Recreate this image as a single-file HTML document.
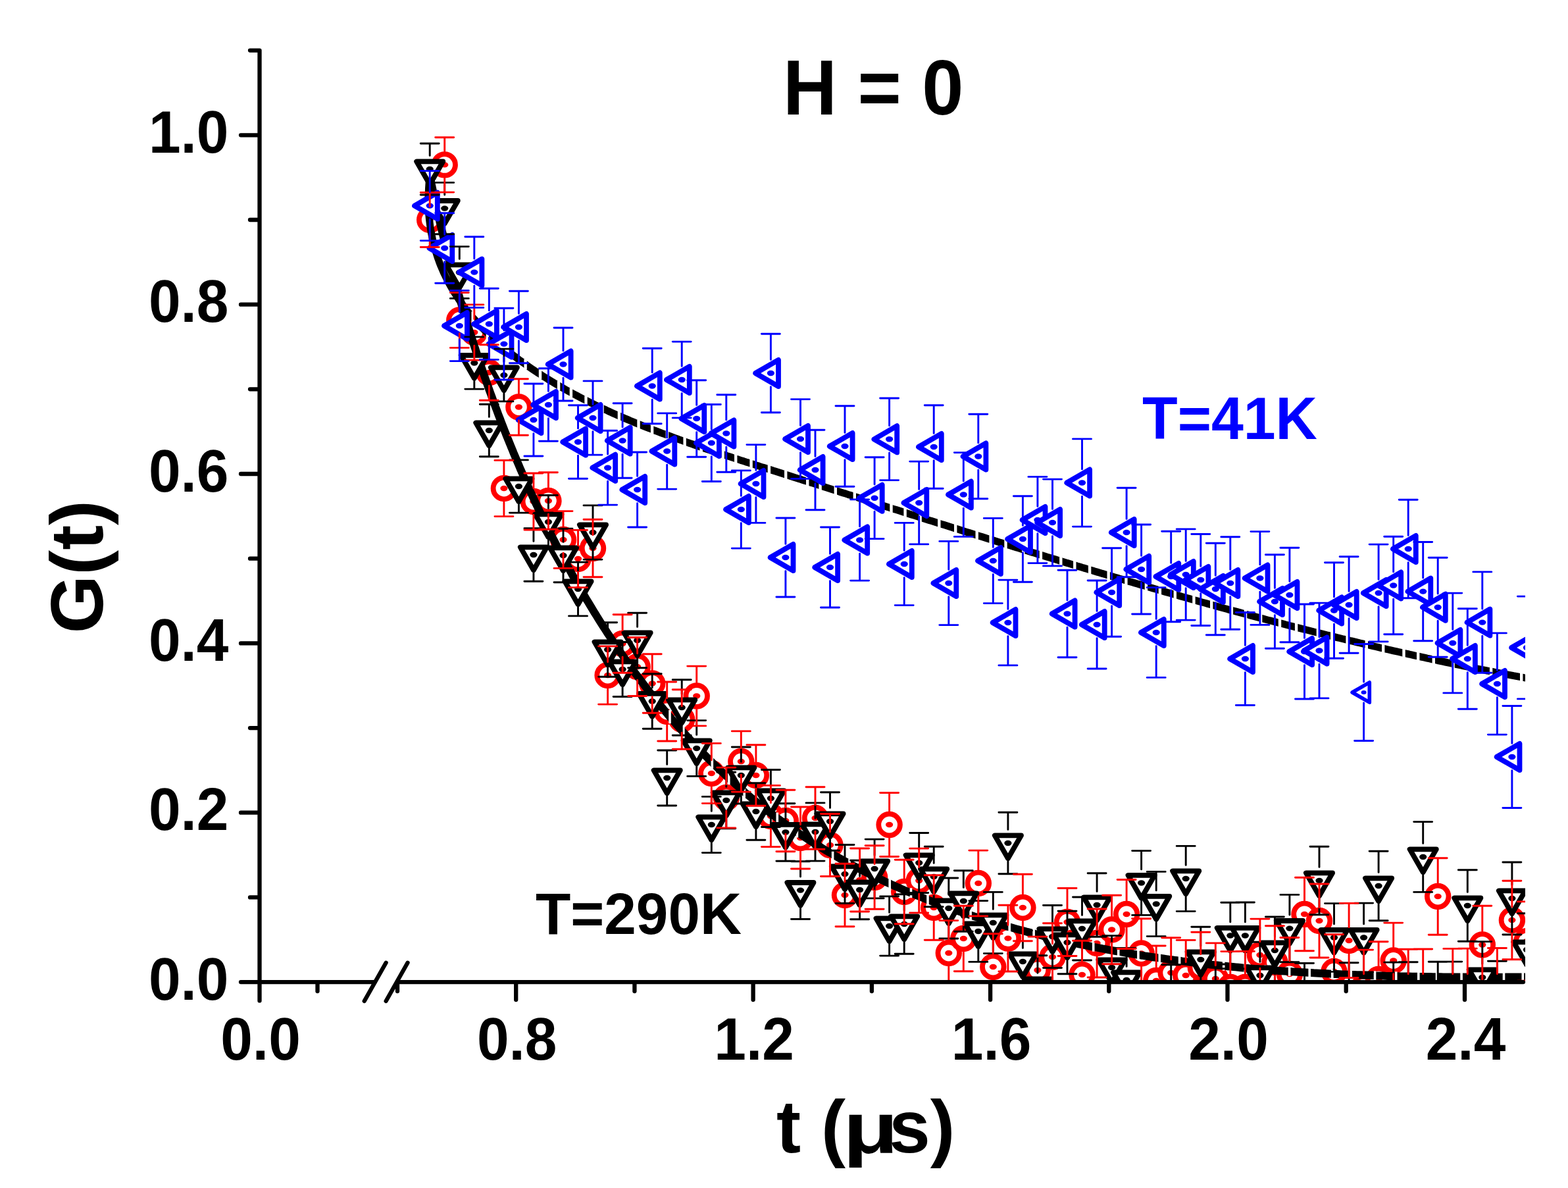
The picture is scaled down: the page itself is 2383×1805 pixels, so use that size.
<!DOCTYPE html><html><head><meta charset="utf-8"><title>G(t) H=0</title><style>html,body{margin:0;padding:0;background:#fff}svg{display:block}text{font-family:"Liberation Sans",Arial,sans-serif;font-weight:bold}</style></head><body><svg width="2383" height="1805" viewBox="0 0 2383 1805"><rect width="2383" height="1805" fill="#fff"/><defs><clipPath id="pc"><rect x="394.5" y="46.6" width="1923.5" height="1445.5"/></clipPath></defs><g clip-path="url(#pc)"><circle cx="653.2" cy="334" r="16.3" fill="#fff" stroke="#ff0000" stroke-width="7.8"/><ellipse cx="653.2" cy="334" rx="5.6" ry="4.2" fill="#ff0000"/><circle cx="675.7" cy="250.4" r="16.3" fill="#fff" stroke="#ff0000" stroke-width="7.8"/><ellipse cx="675.7" cy="250.4" rx="5.6" ry="4.2" fill="#ff0000"/><circle cx="698.3" cy="486.5" r="16.3" fill="#fff" stroke="#ff0000" stroke-width="7.8"/><ellipse cx="698.3" cy="486.5" rx="5.6" ry="4.2" fill="#ff0000"/><circle cx="720.8" cy="505" r="16.3" fill="#fff" stroke="#ff0000" stroke-width="7.8"/><ellipse cx="720.8" cy="505" rx="5.6" ry="4.2" fill="#ff0000"/><circle cx="743.3" cy="566" r="16.3" fill="#fff" stroke="#ff0000" stroke-width="7.8"/><ellipse cx="743.3" cy="566" rx="5.6" ry="4.2" fill="#ff0000"/><circle cx="765.9" cy="742" r="16.3" fill="#fff" stroke="#ff0000" stroke-width="7.8"/><ellipse cx="765.9" cy="742" rx="5.6" ry="4.2" fill="#ff0000"/><circle cx="788.4" cy="618.5" r="16.3" fill="#fff" stroke="#ff0000" stroke-width="7.8"/><ellipse cx="788.4" cy="618.5" rx="5.6" ry="4.2" fill="#ff0000"/><circle cx="810.9" cy="762" r="16.3" fill="#fff" stroke="#ff0000" stroke-width="7.8"/><ellipse cx="810.9" cy="762" rx="5.6" ry="4.2" fill="#ff0000"/><circle cx="833.4" cy="761" r="16.3" fill="#fff" stroke="#ff0000" stroke-width="7.8"/><ellipse cx="833.4" cy="761" rx="5.6" ry="4.2" fill="#ff0000"/><circle cx="856" cy="820" r="16.3" fill="#fff" stroke="#ff0000" stroke-width="7.8"/><ellipse cx="856" cy="820" rx="5.6" ry="4.2" fill="#ff0000"/><circle cx="878.5" cy="849" r="16.3" fill="#fff" stroke="#ff0000" stroke-width="7.8"/><ellipse cx="878.5" cy="849" rx="5.6" ry="4.2" fill="#ff0000"/><circle cx="901" cy="833" r="16.3" fill="#fff" stroke="#ff0000" stroke-width="7.8"/><ellipse cx="901" cy="833" rx="5.6" ry="4.2" fill="#ff0000"/><circle cx="923.6" cy="1026" r="16.3" fill="#fff" stroke="#ff0000" stroke-width="7.8"/><ellipse cx="923.6" cy="1026" rx="5.6" ry="4.2" fill="#ff0000"/><circle cx="946.1" cy="978" r="16.3" fill="#fff" stroke="#ff0000" stroke-width="7.8"/><ellipse cx="946.1" cy="978" rx="5.6" ry="4.2" fill="#ff0000"/><circle cx="968.6" cy="1013" r="16.3" fill="#fff" stroke="#ff0000" stroke-width="7.8"/><ellipse cx="968.6" cy="1013" rx="5.6" ry="4.2" fill="#ff0000"/><circle cx="991.2" cy="1038.5" r="16.3" fill="#fff" stroke="#ff0000" stroke-width="7.8"/><ellipse cx="991.2" cy="1038.5" rx="5.6" ry="4.2" fill="#ff0000"/><circle cx="1013.7" cy="1081" r="16.3" fill="#fff" stroke="#ff0000" stroke-width="7.8"/><ellipse cx="1013.7" cy="1081" rx="5.6" ry="4.2" fill="#ff0000"/><circle cx="1036.2" cy="1093" r="16.3" fill="#fff" stroke="#ff0000" stroke-width="7.8"/><ellipse cx="1036.2" cy="1093" rx="5.6" ry="4.2" fill="#ff0000"/><circle cx="1058.7" cy="1057.5" r="16.3" fill="#fff" stroke="#ff0000" stroke-width="7.8"/><ellipse cx="1058.7" cy="1057.5" rx="5.6" ry="4.2" fill="#ff0000"/><circle cx="1081.3" cy="1175" r="16.3" fill="#fff" stroke="#ff0000" stroke-width="7.8"/><ellipse cx="1081.3" cy="1175" rx="5.6" ry="4.2" fill="#ff0000"/><circle cx="1103.8" cy="1212" r="16.3" fill="#fff" stroke="#ff0000" stroke-width="7.8"/><ellipse cx="1103.8" cy="1212" rx="5.6" ry="4.2" fill="#ff0000"/><circle cx="1126.3" cy="1157" r="16.3" fill="#fff" stroke="#ff0000" stroke-width="7.8"/><ellipse cx="1126.3" cy="1157" rx="5.6" ry="4.2" fill="#ff0000"/><circle cx="1148.9" cy="1178" r="16.3" fill="#fff" stroke="#ff0000" stroke-width="7.8"/><ellipse cx="1148.9" cy="1178" rx="5.6" ry="4.2" fill="#ff0000"/><circle cx="1171.4" cy="1240" r="16.3" fill="#fff" stroke="#ff0000" stroke-width="7.8"/><ellipse cx="1171.4" cy="1240" rx="5.6" ry="4.2" fill="#ff0000"/><circle cx="1193.9" cy="1247" r="16.3" fill="#fff" stroke="#ff0000" stroke-width="7.8"/><ellipse cx="1193.9" cy="1247" rx="5.6" ry="4.2" fill="#ff0000"/><circle cx="1216.5" cy="1273" r="16.3" fill="#fff" stroke="#ff0000" stroke-width="7.8"/><ellipse cx="1216.5" cy="1273" rx="5.6" ry="4.2" fill="#ff0000"/><circle cx="1239" cy="1243" r="16.3" fill="#fff" stroke="#ff0000" stroke-width="7.8"/><ellipse cx="1239" cy="1243" rx="5.6" ry="4.2" fill="#ff0000"/><circle cx="1261.5" cy="1284" r="16.3" fill="#fff" stroke="#ff0000" stroke-width="7.8"/><ellipse cx="1261.5" cy="1284" rx="5.6" ry="4.2" fill="#ff0000"/><circle cx="1284" cy="1360" r="16.3" fill="#fff" stroke="#ff0000" stroke-width="7.8"/><ellipse cx="1284" cy="1360" rx="5.6" ry="4.2" fill="#ff0000"/><circle cx="1306.6" cy="1337" r="16.3" fill="#fff" stroke="#ff0000" stroke-width="7.8"/><ellipse cx="1306.6" cy="1337" rx="5.6" ry="4.2" fill="#ff0000"/><circle cx="1329.1" cy="1333" r="16.3" fill="#fff" stroke="#ff0000" stroke-width="7.8"/><ellipse cx="1329.1" cy="1333" rx="5.6" ry="4.2" fill="#ff0000"/><circle cx="1351.6" cy="1253" r="16.3" fill="#fff" stroke="#ff0000" stroke-width="7.8"/><ellipse cx="1351.6" cy="1253" rx="5.6" ry="4.2" fill="#ff0000"/><circle cx="1374.2" cy="1355" r="16.3" fill="#fff" stroke="#ff0000" stroke-width="7.8"/><ellipse cx="1374.2" cy="1355" rx="5.6" ry="4.2" fill="#ff0000"/><circle cx="1396.7" cy="1338" r="16.3" fill="#fff" stroke="#ff0000" stroke-width="7.8"/><ellipse cx="1396.7" cy="1338" rx="5.6" ry="4.2" fill="#ff0000"/><circle cx="1419.2" cy="1379" r="16.3" fill="#fff" stroke="#ff0000" stroke-width="7.8"/><ellipse cx="1419.2" cy="1379" rx="5.6" ry="4.2" fill="#ff0000"/><circle cx="1441.8" cy="1448" r="16.3" fill="#fff" stroke="#ff0000" stroke-width="7.8"/><ellipse cx="1441.8" cy="1448" rx="5.6" ry="4.2" fill="#ff0000"/><circle cx="1464.3" cy="1426" r="16.3" fill="#fff" stroke="#ff0000" stroke-width="7.8"/><ellipse cx="1464.3" cy="1426" rx="5.6" ry="4.2" fill="#ff0000"/><circle cx="1486.8" cy="1342" r="16.3" fill="#fff" stroke="#ff0000" stroke-width="7.8"/><ellipse cx="1486.8" cy="1342" rx="5.6" ry="4.2" fill="#ff0000"/><circle cx="1509.3" cy="1469" r="16.3" fill="#fff" stroke="#ff0000" stroke-width="7.8"/><ellipse cx="1509.3" cy="1469" rx="5.6" ry="4.2" fill="#ff0000"/><circle cx="1531.9" cy="1425.6" r="16.3" fill="#fff" stroke="#ff0000" stroke-width="7.8"/><ellipse cx="1531.9" cy="1425.6" rx="5.6" ry="4.2" fill="#ff0000"/><circle cx="1554.4" cy="1379" r="16.3" fill="#fff" stroke="#ff0000" stroke-width="7.8"/><ellipse cx="1554.4" cy="1379" rx="5.6" ry="4.2" fill="#ff0000"/><circle cx="1576.9" cy="1474" r="16.3" fill="#fff" stroke="#ff0000" stroke-width="7.8"/><ellipse cx="1576.9" cy="1474" rx="5.6" ry="4.2" fill="#ff0000"/><circle cx="1599.5" cy="1454" r="16.3" fill="#fff" stroke="#ff0000" stroke-width="7.8"/><ellipse cx="1599.5" cy="1454" rx="5.6" ry="4.2" fill="#ff0000"/><circle cx="1622" cy="1401" r="16.3" fill="#fff" stroke="#ff0000" stroke-width="7.8"/><ellipse cx="1622" cy="1401" rx="5.6" ry="4.2" fill="#ff0000"/><circle cx="1644.5" cy="1481" r="16.3" fill="#fff" stroke="#ff0000" stroke-width="7.8"/><ellipse cx="1644.5" cy="1481" rx="5.6" ry="4.2" fill="#ff0000"/><circle cx="1667.1" cy="1433" r="16.3" fill="#fff" stroke="#ff0000" stroke-width="7.8"/><ellipse cx="1667.1" cy="1433" rx="5.6" ry="4.2" fill="#ff0000"/><circle cx="1689.6" cy="1412.5" r="16.3" fill="#fff" stroke="#ff0000" stroke-width="7.8"/><ellipse cx="1689.6" cy="1412.5" rx="5.6" ry="4.2" fill="#ff0000"/><circle cx="1712.1" cy="1389" r="16.3" fill="#fff" stroke="#ff0000" stroke-width="7.8"/><ellipse cx="1712.1" cy="1389" rx="5.6" ry="4.2" fill="#ff0000"/><circle cx="1734.6" cy="1448.5" r="16.3" fill="#fff" stroke="#ff0000" stroke-width="7.8"/><ellipse cx="1734.6" cy="1448.5" rx="5.6" ry="4.2" fill="#ff0000"/><circle cx="1757.2" cy="1490" r="16.3" fill="#fff" stroke="#ff0000" stroke-width="7.8"/><ellipse cx="1757.2" cy="1490" rx="5.6" ry="4.2" fill="#ff0000"/><circle cx="1779.7" cy="1478" r="16.3" fill="#fff" stroke="#ff0000" stroke-width="7.8"/><ellipse cx="1779.7" cy="1478" rx="5.6" ry="4.2" fill="#ff0000"/><circle cx="1802.2" cy="1482" r="16.3" fill="#fff" stroke="#ff0000" stroke-width="7.8"/><ellipse cx="1802.2" cy="1482" rx="5.6" ry="4.2" fill="#ff0000"/><circle cx="1824.8" cy="1470" r="16.3" fill="#fff" stroke="#ff0000" stroke-width="7.8"/><ellipse cx="1824.8" cy="1470" rx="5.6" ry="4.2" fill="#ff0000"/><circle cx="1847.3" cy="1487" r="16.3" fill="#fff" stroke="#ff0000" stroke-width="7.8"/><ellipse cx="1847.3" cy="1487" rx="5.6" ry="4.2" fill="#ff0000"/><circle cx="1869.8" cy="1500" r="16.3" fill="#fff" stroke="#ff0000" stroke-width="7.8"/><ellipse cx="1869.8" cy="1500" rx="5.6" ry="4.2" fill="#ff0000"/><circle cx="1892.4" cy="1500" r="16.3" fill="#fff" stroke="#ff0000" stroke-width="7.8"/><ellipse cx="1892.4" cy="1500" rx="5.6" ry="4.2" fill="#ff0000"/><circle cx="1914.9" cy="1451" r="16.3" fill="#fff" stroke="#ff0000" stroke-width="7.8"/><ellipse cx="1914.9" cy="1451" rx="5.6" ry="4.2" fill="#ff0000"/><circle cx="1937.4" cy="1462" r="16.3" fill="#fff" stroke="#ff0000" stroke-width="7.8"/><ellipse cx="1937.4" cy="1462" rx="5.6" ry="4.2" fill="#ff0000"/><circle cx="1959.9" cy="1480" r="16.3" fill="#fff" stroke="#ff0000" stroke-width="7.8"/><ellipse cx="1959.9" cy="1480" rx="5.6" ry="4.2" fill="#ff0000"/><circle cx="1982.5" cy="1389" r="16.3" fill="#fff" stroke="#ff0000" stroke-width="7.8"/><ellipse cx="1982.5" cy="1389" rx="5.6" ry="4.2" fill="#ff0000"/><circle cx="2005" cy="1399" r="16.3" fill="#fff" stroke="#ff0000" stroke-width="7.8"/><ellipse cx="2005" cy="1399" rx="5.6" ry="4.2" fill="#ff0000"/><circle cx="2027.5" cy="1476" r="16.3" fill="#fff" stroke="#ff0000" stroke-width="7.8"/><ellipse cx="2027.5" cy="1476" rx="5.6" ry="4.2" fill="#ff0000"/><circle cx="2050.1" cy="1429" r="16.3" fill="#fff" stroke="#ff0000" stroke-width="7.8"/><ellipse cx="2050.1" cy="1429" rx="5.6" ry="4.2" fill="#ff0000"/><circle cx="2072.6" cy="1500" r="16.3" fill="#fff" stroke="#ff0000" stroke-width="7.8"/><ellipse cx="2072.6" cy="1500" rx="5.6" ry="4.2" fill="#ff0000"/><circle cx="2095.1" cy="1488" r="16.3" fill="#fff" stroke="#ff0000" stroke-width="7.8"/><ellipse cx="2095.1" cy="1488" rx="5.6" ry="4.2" fill="#ff0000"/><circle cx="2117.7" cy="1459.5" r="16.3" fill="#fff" stroke="#ff0000" stroke-width="7.8"/><ellipse cx="2117.7" cy="1459.5" rx="5.6" ry="4.2" fill="#ff0000"/><circle cx="2140.2" cy="1500" r="16.3" fill="#fff" stroke="#ff0000" stroke-width="7.8"/><ellipse cx="2140.2" cy="1500" rx="5.6" ry="4.2" fill="#ff0000"/><circle cx="2162.7" cy="1500" r="16.3" fill="#fff" stroke="#ff0000" stroke-width="7.8"/><ellipse cx="2162.7" cy="1500" rx="5.6" ry="4.2" fill="#ff0000"/><circle cx="2185.2" cy="1362" r="16.3" fill="#fff" stroke="#ff0000" stroke-width="7.8"/><ellipse cx="2185.2" cy="1362" rx="5.6" ry="4.2" fill="#ff0000"/><circle cx="2207.8" cy="1500" r="16.3" fill="#fff" stroke="#ff0000" stroke-width="7.8"/><ellipse cx="2207.8" cy="1500" rx="5.6" ry="4.2" fill="#ff0000"/><circle cx="2230.3" cy="1500" r="16.3" fill="#fff" stroke="#ff0000" stroke-width="7.8"/><ellipse cx="2230.3" cy="1500" rx="5.6" ry="4.2" fill="#ff0000"/><circle cx="2252.8" cy="1435.5" r="16.3" fill="#fff" stroke="#ff0000" stroke-width="7.8"/><ellipse cx="2252.8" cy="1435.5" rx="5.6" ry="4.2" fill="#ff0000"/><circle cx="2275.4" cy="1500" r="16.3" fill="#fff" stroke="#ff0000" stroke-width="7.8"/><ellipse cx="2275.4" cy="1500" rx="5.6" ry="4.2" fill="#ff0000"/><circle cx="2297.9" cy="1398" r="16.3" fill="#fff" stroke="#ff0000" stroke-width="7.8"/><ellipse cx="2297.9" cy="1398" rx="5.6" ry="4.2" fill="#ff0000"/><circle cx="2320.4" cy="1430" r="16.3" fill="#fff" stroke="#ff0000" stroke-width="7.8"/><ellipse cx="2320.4" cy="1430" rx="5.6" ry="4.2" fill="#ff0000"/></g><g clip-path="url(#pc)" fill="none" stroke-linejoin="round"><path d="M653.3 268.2 L654.1 271.9 L654.8 275.6 L655.6 279.3 L656.4 283 L657.2 286.7 L658 290.5 L658.8 294.2 L659.6 297.9 L660.4 301.6 L661.2 305.4 L662.1 309.1 L662.9 312.9 L663.7 316.6 L664.6 320.4 L665.4 324.1 L666.3 327.9 L667.2 331.6 L668.1 335.4 L668.9 339.2 L669.8 342.9 L670.7 346.7 L671.6 350.5 L672.6 354.3 L673.5 358 L674.4 361.8 L675.3 365.6 L676.3 369.4 L677.2 373.2 L678.2 377 L679.2 380.8 L680.1 384.6 L681.1 388.4 L682.1 392.2 L683.1 396 L684.1 399.8 L685.1 403.6 L686.1 407.5 L687.1 411.3 L688.1 415.1 L689.2 418.9 L690.2 422.7 L691.3 426.6 L692.3 430.4 L693.4 434.2 L694.5 438.1 L695.5 441.9 L696.6 445.7 L697.7 449.6 L698.8 453.4 L699.9 457.2 L701 461.1 L702.2 464.9 L703.3 468.8 L704.4 472.6 L705.6 476.4 L706.7 480.3 L707.9 484.1 L709.1 488 L710.2 491.8 L711.4 495.7 L712.6 499.5 L713.8 503.4 L715 507.2 L716.2 511.1 L717.4 514.9 L718.7 518.8 L719.9 522.6 L721.1 526.5 L722.4 530.3 L723.6 534.2 L724.9 538 L726.2 541.9 L727.5 545.7 L728.7 549.6 L730 553.4 L731.3 557.3 L732.7 561.1 L734 564.9 L735.3 568.8 L736.6 572.6 L738 576.5 L739.3 580.3 L740.7 584.2 L742 588 L743.4 591.9 L744.8 595.7 L746.2 599.5 L747.6 603.4 L749 607.2 L750.4 611 L751.8 614.9 L753.2 618.7 L754.7 622.5 L756.1 626.4 L757.5 630.2 L759 634 L760.5 637.8 L761.9 641.6 L763.4 645.5 L764.9 649.3 L766.4 653.1 L767.9 656.9 L769.4 660.7 L770.9 664.5 L772.5 668.3 L774 672.1 L775.6 675.9 L777.1 679.7 L778.7 683.5 L780.2 687.3 L781.8 691.1 L783.4 694.9 L785 698.7 L786.6 702.5 L788.2 706.2 L789.8 710 L791.4 713.8 L793.1 717.5 L794.7 721.3 L796.4 725.1 L798 728.8 L799.7 732.6 L801.3 736.3 L803 740.1 L804.7 743.8 L806.4 747.6 L808.1 751.3 L809.8 755 L811.6 758.8 L813.3 762.5 L815 766.2 L816.8 769.9 L818.5 773.6 L820.3 777.3 L822.1 781 L823.8 784.7 L825.6 788.4 L827.4 792.1 L829.2 795.8 L831 799.5 L832.9 803.1 L834.7 806.8 L836.5 810.5 L838.4 814.1 L840.2 817.8 L842.1 821.4 L844 825.1 L845.8 828.7 L847.7 832.3 L849.6 836 L851.5 839.6 L853.4 843.2 L855.4 846.8 L857.3 850.4 L859.2 854 L861.2 857.6 L863.1 861.2 L865.1 864.8 L867.1 868.4 L869 871.9 L871 875.5 L873 879 L875 882.6 L877.1 886.1 L879.1 889.7 L881.1 893.2 L883.2 896.7 L885.2 900.2 L887.3 903.8 L889.3 907.3 L891.4 910.8 L893.5 914.2 L895.6 917.7 L897.7 921.2 L899.8 924.7 L901.9 928.1 L904 931.6 L906.2 935 L908.3 938.5 L910.5 941.9 L912.6 945.3 L914.8 948.8 L917 952.2 L919.2 955.6 L921.4 959 L923.6 962.4 L925.8 965.7 L928 969.1 L930.3 972.5 L932.5 975.8 L934.8 979.2 L937 982.5 L939.3 985.8 L941.6 989.2 L943.9 992.5 L946.2 995.8 L948.5 999.1 L950.8 1002.4 L953.1 1005.6 L955.4 1008.9 L957.8 1012.2 L960.1 1015.4 L962.5 1018.7 L964.8 1021.9 L967.2 1025.1 L969.6 1028.3 L972 1031.5 L974.4 1034.7 L976.8 1037.9 L979.2 1041.1 L981.7 1044.3 L984.1 1047.4 L986.6 1050.6 L989 1053.7 L991.5 1056.9 L994 1060 L996.4 1063.1 L998.9 1066.2 L1001.4 1069.3 L1004 1072.4 L1006.5 1075.4 L1009 1078.5 L1011.6 1081.5 L1014.1 1084.6 L1016.7 1087.6 L1019.2 1090.6 L1021.8 1093.6 L1024.4 1096.6 L1027 1099.6 L1029.6 1102.6 L1032.2 1105.6 L1034.8 1108.5 L1037.5 1111.4 L1040.1 1114.4 L1042.8 1117.3 L1045.4 1120.2 L1048.1 1123.1 L1050.8 1126 L1053.5 1128.9 L1056.2 1131.7 L1058.9 1134.6 L1061.6 1137.4 L1064.3 1140.3 L1067.1 1143.1 L1069.8 1145.9 L1072.6 1148.7 L1075.3 1151.4 L1078.1 1154.2 L1080.9 1157 L1083.7 1159.7 L1086.5 1162.5 L1089.3 1165.2 L1092.1 1167.9 L1095 1170.6 L1097.8 1173.3 L1100.7 1175.9 L1103.5 1178.6 L1106.4 1181.2 L1109.3 1183.9 L1112.2 1186.5 L1115.1 1189.1 L1118 1191.7 L1120.9 1194.3 L1123.8 1196.8 L1126.8 1199.4 L1129.7 1201.9 L1132.7 1204.5 L1135.6 1207 L1138.6 1209.5 L1141.6 1212 L1144.6 1214.4 L1147.6 1216.9 L1150.6 1219.4 L1153.7 1221.8 L1156.7 1224.2 L1159.7 1226.6 L1162.8 1229 L1165.9 1231.4 L1168.9 1233.8 L1172 1236.1 L1175.1 1238.4 L1178.2 1240.8 L1181.3 1243.1 L1184.5 1245.4 L1187.6 1247.6 L1190.7 1249.9 L1193.9 1252.2 L1197.1 1254.4 L1200.2 1256.6 L1203.4 1258.8 L1206.6 1261 L1209.8 1263.2 L1213 1265.4 L1216.2 1267.5 L1219.5 1269.6 L1222.7 1271.8 L1226 1273.9 L1229.2 1276 L1232.5 1278.1 L1235.8 1280.1 L1239 1282.2 L1242.3 1284.2 L1245.6 1286.2 L1248.9 1288.3 L1252.3 1290.3 L1255.6 1292.3 L1258.9 1294.2 L1262.3 1296.2 L1265.6 1298.1 L1269 1300.1 L1272.4 1302 L1275.8 1303.9 L1279.1 1305.8 L1282.5 1307.7 L1285.9 1309.5 L1289.4 1311.4 L1292.8 1313.2 L1296.2 1315.1 L1299.7 1316.9 L1303.1 1318.7 L1306.6 1320.5 L1310 1322.3 L1313.5 1324 L1317 1325.8 L1320.4 1327.5 L1323.9 1329.3 L1327.4 1331 L1331 1332.7 L1334.5 1334.4 L1338 1336 L1341.5 1337.7 L1345.1 1339.4 L1348.6 1341 L1352.2 1342.6 L1355.7 1344.3 L1359.3 1345.9 L1362.9 1347.5 L1366.5 1349 L1370 1350.6 L1373.6 1352.2 L1377.2 1353.7 L1380.9 1355.2 L1384.5 1356.8 L1388.1 1358.3 L1391.7 1359.8 L1395.4 1361.3 L1399 1362.7 L1402.7 1364.2 L1406.3 1365.7 L1410 1367.1 L1413.7 1368.5 L1417.3 1369.9 L1421 1371.4 L1424.7 1372.8 L1428.4 1374.1 L1432.1 1375.5 L1435.8 1376.9 L1439.5 1378.2 L1443.3 1379.6 L1447 1380.9 L1450.7 1382.2 L1454.4 1383.5 L1458.2 1384.8 L1461.9 1386.1 L1465.7 1387.4 L1469.5 1388.6 L1473.2 1389.9 L1477 1391.1 L1480.8 1392.4 L1484.6 1393.6 L1488.4 1394.8 L1492.2 1396 L1496 1397.2 L1499.8 1398.4 L1503.6 1399.5 L1507.4 1400.7 L1511.2 1401.8 L1515 1403 L1518.9 1404.1 L1522.7 1405.2 L1526.5 1406.3 L1530.4 1407.4 L1534.2 1408.5 L1538.1 1409.6 L1542 1410.7 L1545.8 1411.7 L1549.7 1412.8 L1553.6 1413.8 L1557.4 1414.8 L1561.3 1415.9 L1565.2 1416.9 L1569.1 1417.9 L1573 1418.9 L1576.9 1419.8 L1580.8 1420.8 L1584.7 1421.8 L1588.6 1422.7 L1592.6 1423.7 L1596.5 1424.6 L1600.4 1425.5 L1604.3 1426.4 L1608.3 1427.3 L1612.2 1428.2 L1616.1 1429.1 L1620.1 1430 L1624 1430.9 L1628 1431.7 L1632 1432.6 L1635.9 1433.4 L1639.9 1434.3 L1643.8 1435.1 L1647.8 1435.9 L1651.8 1436.7 L1655.8 1437.5 L1659.7 1438.3 L1663.7 1439.1 L1667.7 1439.9 L1671.7 1440.6 L1675.7 1441.4 L1679.7 1442.1 L1683.7 1442.9 L1687.7 1443.6 L1691.7 1444.3 L1695.7 1445 L1699.7 1445.7 L1703.7 1446.4 L1707.7 1447.1 L1711.7 1447.8 L1715.8 1448.5 L1719.8 1449.1 L1723.8 1449.8 L1727.8 1450.5 L1731.9 1451.1 L1735.9 1451.7 L1739.9 1452.4 L1744 1453 L1748 1453.6 L1752 1454.2 L1756.1 1454.8 L1760.1 1455.4 L1764.2 1456 L1768.2 1456.5 L1772.3 1457.1 L1776.3 1457.7 L1780.4 1458.2 L1784.4 1458.8 L1788.5 1459.3 L1792.6 1459.8 L1796.6 1460.4 L1800.7 1460.9 L1804.7 1461.4 L1808.8 1461.9 L1812.9 1462.4 L1816.9 1462.9 L1821 1463.4 L1825.1 1463.8 L1829.1 1464.3 L1833.2 1464.8 L1837.3 1465.2 L1841.3 1465.7 L1845.4 1466.1 L1849.5 1466.5 L1853.6 1467 L1857.6 1467.4 L1861.7 1467.8 L1865.8 1468.2 L1869.9 1468.6 L1874 1469 L1878 1469.4 L1882.1 1469.8 L1886.2 1470.2 L1890.3 1470.6 L1894.4 1470.9 L1898.4 1471.3 L1902.5 1471.6 L1906.6 1472 L1910.7 1472.3 L1914.8 1472.7 L1918.8 1473 L1922.9 1473.3 L1927 1473.6 L1931.1 1474 L1935.2 1474.3 L1939.2 1474.6 L1943.3 1474.9 L1947.4 1475.2 L1951.5 1475.4 L1955.6 1475.7 L1959.6 1476 L1963.7 1476.3 L1967.8 1476.5 L1971.9 1476.8 L1975.9 1477.1 L1980 1477.3 L1984.1 1477.5 L1988.2 1477.8 L1992.2 1478 L1996.3 1478.3 L2000.4 1478.5 L2004.4 1478.7 L2008.5 1478.9 L2012.6 1479.1 L2016.6 1479.3 L2020.7 1479.5 L2024.8 1479.7 L2028.8 1479.9 L2032.9 1480.1 L2036.9 1480.3 L2041 1480.5 L2045.1 1480.6 L2049.1 1480.8 L2053.2 1481 L2057.2 1481.1 L2061.3 1481.3 L2065.3 1481.4 L2069.4 1481.6 L2073.4 1481.7 L2077.4 1481.9 L2081.5 1482 L2085.5 1482.1 L2089.5 1482.3 L2093.6 1482.4 L2097.6 1482.5 L2101.6 1482.6 L2105.7 1482.8 L2109.7 1482.9 L2113.7 1483 L2117.7 1483.1 L2121.7 1483.2 L2125.7 1483.3 L2129.8 1483.4 L2133.8 1483.4 L2137.8 1483.5 L2141.8 1483.6 L2145.8 1483.7 L2149.8 1483.8 L2153.8 1483.8 L2157.7 1483.9 L2161.7 1484 L2165.7 1484 L2169.7 1484.1 L2173.7 1484.1 L2177.7 1484.2 L2181.6 1484.2 L2185.6 1484.3 L2189.6 1484.3 L2193.5 1484.4 L2197.5 1484.4 L2201.4 1484.4 L2205.4 1484.5 L2209.3 1484.5 L2213.3 1484.5 L2217.2 1484.6 L2221.1 1484.6 L2225.1 1484.6 L2229 1484.6 L2232.9 1484.6 L2236.8 1484.7 L2240.8 1484.7 L2244.7 1484.7 L2248.6 1484.7 L2252.5 1484.7 L2256.4 1484.7 L2260.3 1484.7 L2264.2 1484.7 L2268 1484.7 L2271.9 1484.7 L2275.8 1484.7 L2279.7 1484.7 L2283.5 1484.7 L2287.4 1484.6 L2291.3 1484.6 L2295.1 1484.6 L2299 1484.6 L2302.8 1484.6 L2306.6 1484.6 L2310.5 1484.5 L2314.3 1484.5 L2318.1 1484.5 L2320 1484.5" stroke="#000" stroke-width="12"/><path d="M653 267.8 L652.5 272.6 L652.1 277.4 L651.8 282.1 L651.5 286.8 L651.3 291.4 L651.1 296 L651 300.6 L651 305.1 L651.1 309.6 L651.2 314 L651.4 318.4 L651.6 322.7 L651.9 327.1 L652.3 331.3 L652.8 335.6 L653.3 339.8 L653.8 343.9 L654.4 348.1 L655.1 352.2 L655.9 356.2 L656.7 360.2 L657.5 364.2 L658.4 368.2 L659.4 372.1 L660.4 375.9 L661.5 379.8 L662.7 383.6 L663.9 387.3 L665.1 391.1 L666.4 394.8 L667.7 398.4 L669.1 402.1 L670.6 405.7 L672.1 409.2 L673.6 412.7 L675.2 416.2 L676.9 419.7 L678.6 423.1 L680.3 426.5 L682.1 429.9 L683.9 433.3 L685.8 436.6 L687.7 439.8 L689.7 443.1 L691.7 446.3 L693.7 449.5 L695.8 452.7 L697.9 455.8 L700.1 458.9 L702.3 462 L704.5 465 L706.8 468 L709.1 471 L711.5 474 L713.9 476.9 L716.3 479.8 L718.7 482.7 L721.2 485.5 L723.7 488.4 L726.3 491.2 L728.9 493.9 L731.5 496.7 L734.1 499.4 L736.8 502.1 L739.5 504.8 L742.3 507.4 L745 510.1 L747.8 512.7 L750.6 515.2 L753.5 517.8 L756.3 520.3 L759.2 522.8 L762.1 525.3 L765 527.8 L768 530.2 L771 532.7 L774 535.1 L777 537.5 L780 539.8 L783.1 542.1 L786.1 544.5 L789.2 546.8 L792.3 549 L795.4 551.3 L798.6 553.5 L801.7 555.8 L804.9 558 L808.1 560.2 L811.3 562.3 L814.5 564.5 L817.7 566.6 L821 568.7 L824.2 570.8 L827.5 572.9 L830.8 574.9 L834.1 577 L837.4 579 L840.8 581 L844.1 583 L847.5 585 L850.8 586.9 L854.2 588.9 L857.6 590.8 L861 592.7 L864.5 594.6 L867.9 596.5 L871.3 598.4 L874.8 600.2 L878.3 602 L881.8 603.9 L885.3 605.7 L888.8 607.4 L892.3 609.2 L895.8 611 L899.4 612.7 L902.9 614.5 L906.5 616.2 L910.1 617.9 L913.7 619.6 L917.3 621.3 L920.9 622.9 L924.5 624.6 L928.1 626.2 L931.8 627.9 L935.4 629.5 L939.1 631.1 L942.7 632.7 L946.4 634.3 L950.1 635.9 L953.8 637.4 L957.5 639 L961.2 640.5 L964.9 642.1 L968.6 643.6 L972.4 645.1 L976.1 646.6 L979.8 648.1 L983.6 649.6 L987.4 651 L991.1 652.5 L994.9 654 L998.7 655.4 L1002.5 656.8 L1006.3 658.3 L1010.1 659.7 L1013.9 661.1 L1017.7 662.5 L1021.5 663.9 L1025.3 665.3 L1029.1 666.7 L1033 668.1 L1036.8 669.4 L1040.6 670.8 L1044.5 672.1 L1048.3 673.5 L1052.2 674.8 L1056.1 676.2 L1059.9 677.5 L1063.8 678.8 L1067.7 680.1 L1071.5 681.5 L1075.4 682.8 L1079.3 684.1 L1083.2 685.4 L1087 686.7 L1090.9 687.9 L1094.8 689.2 L1098.7 690.5 L1102.6 691.8 L1106.5 693.1 L1110.4 694.3 L1114.3 695.6 L1118.2 696.9 L1122.1 698.1 L1126 699.4 L1129.9 700.6 L1133.8 701.9 L1137.7 703.1 L1141.6 704.4 L1145.5 705.6 L1149.4 706.9 L1153.3 708.1 L1157.2 709.4 L1161.1 710.6 L1165 711.8 L1168.9 713.1 L1172.8 714.3 L1176.7 715.6 L1180.6 716.8 L1184.5 718 L1188.4 719.3 L1192.3 720.5 L1196.2 721.7 L1200.1 723 L1203.9 724.2 L1207.8 725.5 L1211.7 726.7 L1215.6 727.9 L1219.5 729.2 L1223.4 730.4 L1227.2 731.6 L1231.1 732.9 L1235 734.1 L1238.9 735.3 L1242.7 736.6 L1246.6 737.8 L1250.5 739 L1254.3 740.3 L1258.2 741.5 L1262.1 742.7 L1265.9 744 L1269.8 745.2 L1273.7 746.4 L1277.5 747.7 L1281.4 748.9 L1285.3 750.1 L1289.1 751.4 L1293 752.6 L1296.8 753.8 L1300.7 755 L1304.5 756.3 L1308.4 757.5 L1312.2 758.7 L1316.1 759.9 L1319.9 761.2 L1323.8 762.4 L1327.6 763.6 L1331.5 764.8 L1335.3 766.1 L1339.2 767.3 L1343 768.5 L1346.9 769.7 L1350.7 770.9 L1354.5 772.2 L1358.4 773.4 L1362.2 774.6 L1366.1 775.8 L1369.9 777 L1373.7 778.3 L1377.6 779.5 L1381.4 780.7 L1385.2 781.9 L1389.1 783.1 L1392.9 784.3 L1396.7 785.5 L1400.6 786.8 L1404.4 788 L1408.2 789.2 L1412 790.4 L1415.9 791.6 L1419.7 792.8 L1423.5 794 L1427.3 795.2 L1431.2 796.4 L1435 797.6 L1438.8 798.8 L1442.6 800 L1446.5 801.2 L1450.3 802.4 L1454.1 803.6 L1457.9 804.8 L1461.7 806 L1465.6 807.2 L1469.4 808.4 L1473.2 809.6 L1477 810.8 L1480.8 812 L1484.7 813.2 L1488.5 814.4 L1492.3 815.6 L1496.1 816.8 L1499.9 818 L1503.7 819.1 L1507.5 820.3 L1511.4 821.5 L1515.2 822.7 L1519 823.9 L1522.8 825.1 L1526.6 826.3 L1530.4 827.4 L1534.2 828.6 L1538 829.8 L1541.9 831 L1545.7 832.1 L1549.5 833.3 L1553.3 834.5 L1557.1 835.7 L1560.9 836.8 L1564.7 838 L1568.5 839.2 L1572.3 840.3 L1576.1 841.5 L1580 842.7 L1583.8 843.8 L1587.6 845 L1591.4 846.2 L1595.2 847.3 L1599 848.5 L1602.8 849.6 L1606.6 850.8 L1610.4 851.9 L1614.2 853.1 L1618 854.2 L1621.8 855.4 L1625.7 856.5 L1629.5 857.7 L1633.3 858.8 L1637.1 860 L1640.9 861.1 L1644.7 862.3 L1648.5 863.4 L1652.3 864.5 L1656.1 865.7 L1659.9 866.8 L1663.7 868 L1667.5 869.1 L1671.4 870.2 L1675.2 871.4 L1679 872.5 L1682.8 873.6 L1686.6 874.7 L1690.4 875.9 L1694.2 877 L1698 878.1 L1701.8 879.2 L1705.6 880.3 L1709.5 881.5 L1713.3 882.6 L1717.1 883.7 L1720.9 884.8 L1724.7 885.9 L1728.5 887 L1732.3 888.1 L1736.1 889.2 L1740 890.3 L1743.8 891.4 L1747.6 892.5 L1751.4 893.6 L1755.2 894.7 L1759 895.8 L1762.9 896.9 L1766.7 898 L1770.5 899.1 L1774.3 900.2 L1778.1 901.3 L1782 902.4 L1785.8 903.4 L1789.6 904.5 L1793.4 905.6 L1797.2 906.7 L1801.1 907.8 L1804.9 908.8 L1808.7 909.9 L1812.5 911 L1816.4 912 L1820.2 913.1 L1824 914.2 L1827.8 915.2 L1831.7 916.3 L1835.5 917.4 L1839.3 918.4 L1843.2 919.5 L1847 920.5 L1850.8 921.6 L1854.6 922.6 L1858.5 923.7 L1862.3 924.7 L1866.1 925.8 L1870 926.8 L1873.8 927.8 L1877.7 928.9 L1881.5 929.9 L1885.3 930.9 L1889.2 932 L1893 933 L1896.9 934 L1900.7 935.1 L1904.5 936.1 L1908.4 937.1 L1912.2 938.1 L1916.1 939.1 L1919.9 940.1 L1923.8 941.2 L1927.6 942.2 L1931.5 943.2 L1935.3 944.2 L1939.2 945.2 L1943 946.2 L1946.9 947.2 L1950.8 948.2 L1954.6 949.2 L1958.5 950.2 L1962.3 951.2 L1966.2 952.1 L1970.1 953.1 L1973.9 954.1 L1977.8 955.1 L1981.7 956.1 L1985.5 957 L1989.4 958 L1993.3 959 L1997.1 960 L2001 960.9 L2004.9 961.9 L2008.8 962.8 L2012.6 963.8 L2016.5 964.8 L2020.4 965.7 L2024.3 966.7 L2028.1 967.6 L2032 968.6 L2035.9 969.5 L2039.8 970.5 L2043.7 971.4 L2047.6 972.3 L2051.5 973.3 L2055.4 974.2 L2059.3 975.1 L2063.2 976.1 L2067 977 L2070.9 977.9 L2074.8 978.8 L2078.7 979.7 L2082.7 980.7 L2086.6 981.6 L2090.5 982.5 L2094.4 983.4 L2098.3 984.3 L2102.2 985.2 L2106.1 986.1 L2110 987 L2113.9 987.9 L2117.9 988.8 L2121.8 989.6 L2125.7 990.5 L2129.6 991.4 L2133.5 992.3 L2137.5 993.2 L2141.4 994 L2145.3 994.9 L2149.3 995.8 L2153.2 996.7 L2157.1 997.5 L2161.1 998.4 L2165 999.2 L2168.9 1000.1 L2172.9 1000.9 L2176.8 1001.8 L2180.8 1002.6 L2184.7 1003.5 L2188.7 1004.3 L2192.6 1005.2 L2196.6 1006 L2200.5 1006.8 L2204.5 1007.7 L2208.5 1008.5 L2212.4 1009.3 L2216.4 1010.1 L2220.3 1010.9 L2224.3 1011.8 L2228.3 1012.6 L2232.3 1013.4 L2236.2 1014.2 L2240.2 1015 L2244.2 1015.8 L2248.2 1016.6 L2252.2 1017.4 L2256.1 1018.2 L2260.1 1019 L2264.1 1019.7 L2268.1 1020.5 L2272.1 1021.3 L2276.1 1022.1 L2280.1 1022.9 L2284.1 1023.6 L2288.1 1024.4 L2292.1 1025.2 L2296.1 1025.9 L2300.1 1026.7 L2304.1 1027.4 L2308.2 1028.2 L2312.2 1028.9 L2316.2 1029.7 L2320.2 1030.4 L2322.2 1030.8" stroke="#000" stroke-width="11"/><path d="M1018 1078.8v20.5M1038.8 1102.9v19.9M1061.6 1127.8v19.3M1082.3 1148.9v18.8M1107.8 1173.4v18.3M1131.2 1194.3v17.8M1158.2 1216.8v17.3M1181.3 1234.6v16.9M1211.4 1256v16.5M1237.4 1273.1v16.2M1265.6 1290.2v15.9M1291.1 1304.5v15.6M1323.9 1321.6v15.4M1352.2 1335v15.2M1384.5 1349.3v15M1410 1359.7v14.9M1445.1 1372.9v14.7M1475.1 1383.2v14.6M1507.4 1393.4v14.5M1534.2 1401.3v14.5M1571.1 1411.2v14.4M1600.4 1418.4v14.3M1633.9 1425.9v14.3M1661.7 1431.6v14.2M1699.7 1438.6v14.2M1729.9 1443.7v14.2M1762.2 1448.6v14.1M1792.6 1452.8v14.1M1829.1 1457.3v14.1M1859.7 1460.6v14.1M1892.3 1463.7v14M1922.9 1466.3v14M1959.6 1469v14M1990.2 1470.9v14M2024.8 1472.7v14M2053.2 1474v14M2089.5 1475.3v14M2121.7 1476.2v14M2155.8 1476.9v14M2183.6 1477.3v14M2221.1 1477.6v14M2252.5 1477.7v14M2285.5 1477.7v14M2314.3 1477.5v14" stroke="#fff" stroke-width="3.6"/><path d="M718.7 473.2v18.9M740.9 497.4v17.4M757.8 513.3v16.6M775.5 528.2v16M798.6 545.8v15.5M821 561.2v15.1M849.1 578.6v14.7M867.9 589.2v14.5M890.5 601.2v14.3M915.5 613.4v14.1M940.9 624.9v14M970.5 637.4v13.9M991.1 645.6v13.8M1013.9 654.2v13.7M1040.6 664v13.7M1065.7 672.7v13.6M1098.7 683.7v13.6M1118.2 690.1v13.6M1141.6 697.6v13.5M1168.9 706.3v13.5M1194.2 714.4v13.5M1227.2 724.9v13.5M1246.6 731v13.5M1269.8 738.4v13.5M1298.8 747.6v13.5M1323.8 755.6v13.5M1354.5 765.4v13.5M1375.6 772.1v13.5M1398.6 779.4v13.5M1427.3 788.4v13.5M1452.2 796.3v13.5M1484.7 806.4v13.5M1505.6 813v13.5M1528.5 820.1v13.5M1555.2 828.3v13.5M1581.9 836.5v13.5M1612.3 845.8v13.5M1633.3 852.1v13.5M1656.1 858.9v13.5M1684.7 867.4v13.5M1711.4 875.3v13.5M1741.9 884.2v13.5M1762.9 890.2v13.4M1785.8 896.7v13.4M1814.4 904.8v13.4M1841.2 912.2v13.4M1871.9 920.6v13.4M1893 926.3v13.4M1916.1 932.4v13.4M1945 940v13.4M1970.1 946.4v13.4M2002.9 954.7v13.3M2024.3 960v13.3M2047.6 965.7v13.3M2076.8 972.6v13.3M2102.2 978.5v13.3M2133.5 985.7v13.3M2155.2 990.5v13.3M2178.8 995.6v13.3M2208.5 1001.9v13.2M2234.2 1007.2v13.2M2266.1 1013.5v13.2M2288.1 1017.8v13.2M2312.2 1022.3v13.2" stroke="#fff" stroke-width="4.4"/></g><g clip-path="url(#pc)"><g stroke-linejoin="round"><path d="M633.1 245.4L673.3 245.4L653.2 280.2Z" fill="#fff" stroke="#000" stroke-width="7.8"/><ellipse cx="653.2" cy="257" rx="5.6" ry="4.2"/><path d="M655.6 305L695.8 305L675.7 339.8Z" fill="#fff" stroke="#000" stroke-width="7.8"/><ellipse cx="675.7" cy="316.6" rx="5.6" ry="4.2"/><path d="M678.2 402.4L718.4 402.4L698.3 437.2Z" fill="#fff" stroke="#000" stroke-width="7.8"/><ellipse cx="698.3" cy="414" rx="5.6" ry="4.2"/><path d="M700.7 539.9L740.9 539.9L720.8 574.7Z" fill="#fff" stroke="#000" stroke-width="7.8"/><ellipse cx="720.8" cy="551.5" rx="5.6" ry="4.2"/><path d="M723.2 642.4L763.4 642.4L743.3 677.2Z" fill="#fff" stroke="#000" stroke-width="7.8"/><ellipse cx="743.3" cy="654" rx="5.6" ry="4.2"/><path d="M745.8 558.4L785.9 558.4L765.9 593.2Z" fill="#fff" stroke="#000" stroke-width="7.8"/><ellipse cx="765.9" cy="570" rx="5.6" ry="4.2"/><path d="M768.3 727.4L808.5 727.4L788.4 762.2Z" fill="#fff" stroke="#000" stroke-width="7.8"/><ellipse cx="788.4" cy="739" rx="5.6" ry="4.2"/><path d="M790.8 831.4L831 831.4L810.9 866.2Z" fill="#fff" stroke="#000" stroke-width="7.8"/><ellipse cx="810.9" cy="843" rx="5.6" ry="4.2"/><path d="M813.3 781.4L853.5 781.4L833.4 816.2Z" fill="#fff" stroke="#000" stroke-width="7.8"/><ellipse cx="833.4" cy="793" rx="5.6" ry="4.2"/><path d="M835.9 832.4L876.1 832.4L856 867.2Z" fill="#fff" stroke="#000" stroke-width="7.8"/><ellipse cx="856" cy="844" rx="5.6" ry="4.2"/><path d="M858.4 883.4L898.6 883.4L878.5 918.2Z" fill="#fff" stroke="#000" stroke-width="7.8"/><ellipse cx="878.5" cy="895" rx="5.6" ry="4.2"/><path d="M880.9 797.4L921.1 797.4L901 832.2Z" fill="#fff" stroke="#000" stroke-width="7.8"/><ellipse cx="901" cy="809" rx="5.6" ry="4.2"/><path d="M903.5 975.4L943.7 975.4L923.6 1010.2Z" fill="#fff" stroke="#000" stroke-width="7.8"/><ellipse cx="923.6" cy="987" rx="5.6" ry="4.2"/><path d="M926 1005.4L966.2 1005.4L946.1 1040.2Z" fill="#fff" stroke="#000" stroke-width="7.8"/><ellipse cx="946.1" cy="1017" rx="5.6" ry="4.2"/><path d="M948.5 961.4L988.7 961.4L968.6 996.2Z" fill="#fff" stroke="#000" stroke-width="7.8"/><ellipse cx="968.6" cy="973" rx="5.6" ry="4.2"/><path d="M971.1 1053.9L1011.2 1053.9L991.2 1088.7Z" fill="#fff" stroke="#000" stroke-width="7.8"/><ellipse cx="991.2" cy="1065.5" rx="5.6" ry="4.2"/><path d="M993.6 1170.4L1033.8 1170.4L1013.7 1205.2Z" fill="#fff" stroke="#000" stroke-width="7.8"/><ellipse cx="1013.7" cy="1182" rx="5.6" ry="4.2"/><path d="M1016.1 1063.4L1056.3 1063.4L1036.2 1098.2Z" fill="#fff" stroke="#000" stroke-width="7.8"/><ellipse cx="1036.2" cy="1075" rx="5.6" ry="4.2"/><path d="M1038.6 1125.4L1078.8 1125.4L1058.7 1160.2Z" fill="#fff" stroke="#000" stroke-width="7.8"/><ellipse cx="1058.7" cy="1137" rx="5.6" ry="4.2"/><path d="M1061.2 1241.4L1101.4 1241.4L1081.3 1276.2Z" fill="#fff" stroke="#000" stroke-width="7.8"/><ellipse cx="1081.3" cy="1253" rx="5.6" ry="4.2"/><path d="M1083.7 1204.4L1123.9 1204.4L1103.8 1239.2Z" fill="#fff" stroke="#000" stroke-width="7.8"/><ellipse cx="1103.8" cy="1216" rx="5.6" ry="4.2"/><path d="M1106.2 1166.4L1146.4 1166.4L1126.3 1201.2Z" fill="#fff" stroke="#000" stroke-width="7.8"/><ellipse cx="1126.3" cy="1178" rx="5.6" ry="4.2"/><path d="M1128.8 1221.4L1169 1221.4L1148.9 1256.2Z" fill="#fff" stroke="#000" stroke-width="7.8"/><ellipse cx="1148.9" cy="1233" rx="5.6" ry="4.2"/><path d="M1151.3 1201.4L1191.5 1201.4L1171.4 1236.2Z" fill="#fff" stroke="#000" stroke-width="7.8"/><ellipse cx="1171.4" cy="1213" rx="5.6" ry="4.2"/><path d="M1173.8 1252.9L1214 1252.9L1193.9 1287.7Z" fill="#fff" stroke="#000" stroke-width="7.8"/><ellipse cx="1193.9" cy="1264.5" rx="5.6" ry="4.2"/><path d="M1196.4 1341L1236.5 1341L1216.5 1375.8Z" fill="#fff" stroke="#000" stroke-width="7.8"/><ellipse cx="1216.5" cy="1352.6" rx="5.6" ry="4.2"/><path d="M1218.9 1252.4L1259.1 1252.4L1239 1287.2Z" fill="#fff" stroke="#000" stroke-width="7.8"/><ellipse cx="1239" cy="1264" rx="5.6" ry="4.2"/><path d="M1241.4 1236.4L1281.6 1236.4L1261.5 1271.2Z" fill="#fff" stroke="#000" stroke-width="7.8"/><ellipse cx="1261.5" cy="1248" rx="5.6" ry="4.2"/><path d="M1263.9 1316.4L1304.1 1316.4L1284 1351.2Z" fill="#fff" stroke="#000" stroke-width="7.8"/><ellipse cx="1284" cy="1328" rx="5.6" ry="4.2"/><path d="M1286.5 1340.4L1326.7 1340.4L1306.6 1375.2Z" fill="#fff" stroke="#000" stroke-width="7.8"/><ellipse cx="1306.6" cy="1352" rx="5.6" ry="4.2"/><path d="M1309 1308.4L1349.2 1308.4L1329.1 1343.2Z" fill="#fff" stroke="#000" stroke-width="7.8"/><ellipse cx="1329.1" cy="1320" rx="5.6" ry="4.2"/><path d="M1331.5 1395.4L1371.7 1395.4L1351.6 1430.2Z" fill="#fff" stroke="#000" stroke-width="7.8"/><ellipse cx="1351.6" cy="1407" rx="5.6" ry="4.2"/><path d="M1354.1 1392.4L1394.3 1392.4L1374.2 1427.2Z" fill="#fff" stroke="#000" stroke-width="7.8"/><ellipse cx="1374.2" cy="1404" rx="5.6" ry="4.2"/><path d="M1376.6 1299.4L1416.8 1299.4L1396.7 1334.2Z" fill="#fff" stroke="#000" stroke-width="7.8"/><ellipse cx="1396.7" cy="1311" rx="5.6" ry="4.2"/><path d="M1399.1 1320.4L1439.3 1320.4L1419.2 1355.2Z" fill="#fff" stroke="#000" stroke-width="7.8"/><ellipse cx="1419.2" cy="1332" rx="5.6" ry="4.2"/><path d="M1421.7 1368.4L1461.8 1368.4L1441.8 1403.2Z" fill="#fff" stroke="#000" stroke-width="7.8"/><ellipse cx="1441.8" cy="1380" rx="5.6" ry="4.2"/><path d="M1444.2 1357.4L1484.4 1357.4L1464.3 1392.2Z" fill="#fff" stroke="#000" stroke-width="7.8"/><ellipse cx="1464.3" cy="1369" rx="5.6" ry="4.2"/><path d="M1466.7 1403.4L1506.9 1403.4L1486.8 1438.2Z" fill="#fff" stroke="#000" stroke-width="7.8"/><ellipse cx="1486.8" cy="1415" rx="5.6" ry="4.2"/><path d="M1489.2 1390.4L1529.4 1390.4L1509.3 1425.2Z" fill="#fff" stroke="#000" stroke-width="7.8"/><ellipse cx="1509.3" cy="1402" rx="5.6" ry="4.2"/><path d="M1511.8 1269.4L1552 1269.4L1531.9 1304.2Z" fill="#fff" stroke="#000" stroke-width="7.8"/><ellipse cx="1531.9" cy="1281" rx="5.6" ry="4.2"/><path d="M1534.3 1449.4L1574.5 1449.4L1554.4 1484.2Z" fill="#fff" stroke="#000" stroke-width="7.8"/><ellipse cx="1554.4" cy="1461" rx="5.6" ry="4.2"/><path d="M1556.8 1487.4L1597 1487.4L1576.9 1522.2Z" fill="#fff" stroke="#000" stroke-width="7.8"/><ellipse cx="1576.9" cy="1499" rx="5.6" ry="4.2"/><path d="M1579.4 1411.4L1619.6 1411.4L1599.5 1446.2Z" fill="#fff" stroke="#000" stroke-width="7.8"/><ellipse cx="1599.5" cy="1423" rx="5.6" ry="4.2"/><path d="M1601.9 1420.4L1642.1 1420.4L1622 1455.2Z" fill="#fff" stroke="#000" stroke-width="7.8"/><ellipse cx="1622" cy="1432" rx="5.6" ry="4.2"/><path d="M1624.4 1399.4L1664.6 1399.4L1644.5 1434.2Z" fill="#fff" stroke="#000" stroke-width="7.8"/><ellipse cx="1644.5" cy="1411" rx="5.6" ry="4.2"/><path d="M1647 1363.4L1687.1 1363.4L1667.1 1398.2Z" fill="#fff" stroke="#000" stroke-width="7.8"/><ellipse cx="1667.1" cy="1375" rx="5.6" ry="4.2"/><path d="M1669.5 1458.4L1709.7 1458.4L1689.6 1493.2Z" fill="#fff" stroke="#000" stroke-width="7.8"/><ellipse cx="1689.6" cy="1470" rx="5.6" ry="4.2"/><path d="M1692 1477.4L1732.2 1477.4L1712.1 1512.2Z" fill="#fff" stroke="#000" stroke-width="7.8"/><ellipse cx="1712.1" cy="1489" rx="5.6" ry="4.2"/><path d="M1714.5 1329.9L1754.7 1329.9L1734.6 1364.7Z" fill="#fff" stroke="#000" stroke-width="7.8"/><ellipse cx="1734.6" cy="1341.5" rx="5.6" ry="4.2"/><path d="M1737.1 1361.9L1777.3 1361.9L1757.2 1396.7Z" fill="#fff" stroke="#000" stroke-width="7.8"/><ellipse cx="1757.2" cy="1373.5" rx="5.6" ry="4.2"/><path d="M1759.6 1503.4L1799.8 1503.4L1779.7 1538.2Z" fill="#fff" stroke="#000" stroke-width="7.8"/><ellipse cx="1779.7" cy="1515" rx="5.6" ry="4.2"/><path d="M1782.1 1323.4L1822.3 1323.4L1802.2 1358.2Z" fill="#fff" stroke="#000" stroke-width="7.8"/><ellipse cx="1802.2" cy="1335" rx="5.6" ry="4.2"/><path d="M1804.7 1446.4L1844.9 1446.4L1824.8 1481.2Z" fill="#fff" stroke="#000" stroke-width="7.8"/><ellipse cx="1824.8" cy="1458" rx="5.6" ry="4.2"/><path d="M1827.2 1503.4L1867.4 1503.4L1847.3 1538.2Z" fill="#fff" stroke="#000" stroke-width="7.8"/><ellipse cx="1847.3" cy="1515" rx="5.6" ry="4.2"/><path d="M1849.7 1409.9L1889.9 1409.9L1869.8 1444.7Z" fill="#fff" stroke="#000" stroke-width="7.8"/><ellipse cx="1869.8" cy="1421.5" rx="5.6" ry="4.2"/><path d="M1872.3 1409.9L1912.4 1409.9L1892.4 1444.7Z" fill="#fff" stroke="#000" stroke-width="7.8"/><ellipse cx="1892.4" cy="1421.5" rx="5.6" ry="4.2"/><path d="M1894.8 1470.4L1935 1470.4L1914.9 1505.2Z" fill="#fff" stroke="#000" stroke-width="7.8"/><ellipse cx="1914.9" cy="1482" rx="5.6" ry="4.2"/><path d="M1917.3 1432.4L1957.5 1432.4L1937.4 1467.2Z" fill="#fff" stroke="#000" stroke-width="7.8"/><ellipse cx="1937.4" cy="1444" rx="5.6" ry="4.2"/><path d="M1939.8 1399L1980 1399L1959.9 1433.8Z" fill="#fff" stroke="#000" stroke-width="7.8"/><ellipse cx="1959.9" cy="1410.6" rx="5.6" ry="4.2"/><path d="M1962.4 1503.4L2002.6 1503.4L1982.5 1538.2Z" fill="#fff" stroke="#000" stroke-width="7.8"/><ellipse cx="1982.5" cy="1515" rx="5.6" ry="4.2"/><path d="M1984.9 1326.4L2025.1 1326.4L2005 1361.2Z" fill="#fff" stroke="#000" stroke-width="7.8"/><ellipse cx="2005" cy="1338" rx="5.6" ry="4.2"/><path d="M2007.4 1412.9L2047.6 1412.9L2027.5 1447.7Z" fill="#fff" stroke="#000" stroke-width="7.8"/><ellipse cx="2027.5" cy="1424.5" rx="5.6" ry="4.2"/><path d="M2030 1503.4L2070.2 1503.4L2050.1 1538.2Z" fill="#fff" stroke="#000" stroke-width="7.8"/><ellipse cx="2050.1" cy="1515" rx="5.6" ry="4.2"/><path d="M2052.5 1412.9L2092.7 1412.9L2072.6 1447.7Z" fill="#fff" stroke="#000" stroke-width="7.8"/><ellipse cx="2072.6" cy="1424.5" rx="5.6" ry="4.2"/><path d="M2075 1334.4L2115.2 1334.4L2095.1 1369.2Z" fill="#fff" stroke="#000" stroke-width="7.8"/><ellipse cx="2095.1" cy="1346" rx="5.6" ry="4.2"/><path d="M2097.6 1503.4L2137.7 1503.4L2117.7 1538.2Z" fill="#fff" stroke="#000" stroke-width="7.8"/><ellipse cx="2117.7" cy="1515" rx="5.6" ry="4.2"/><path d="M2120.1 1503.4L2160.3 1503.4L2140.2 1538.2Z" fill="#fff" stroke="#000" stroke-width="7.8"/><ellipse cx="2140.2" cy="1515" rx="5.6" ry="4.2"/><path d="M2142.6 1290.4L2182.8 1290.4L2162.7 1325.2Z" fill="#fff" stroke="#000" stroke-width="7.8"/><ellipse cx="2162.7" cy="1302" rx="5.6" ry="4.2"/><path d="M2165.1 1503.4L2205.3 1503.4L2185.2 1538.2Z" fill="#fff" stroke="#000" stroke-width="7.8"/><ellipse cx="2185.2" cy="1515" rx="5.6" ry="4.2"/><path d="M2187.7 1503.4L2227.9 1503.4L2207.8 1538.2Z" fill="#fff" stroke="#000" stroke-width="7.8"/><ellipse cx="2207.8" cy="1515" rx="5.6" ry="4.2"/><path d="M2210.2 1364.4L2250.4 1364.4L2230.3 1399.2Z" fill="#fff" stroke="#000" stroke-width="7.8"/><ellipse cx="2230.3" cy="1376" rx="5.6" ry="4.2"/><path d="M2232.7 1473.4L2272.9 1473.4L2252.8 1508.2Z" fill="#fff" stroke="#000" stroke-width="7.8"/><ellipse cx="2252.8" cy="1485" rx="5.6" ry="4.2"/><path d="M2255.3 1503.4L2295.5 1503.4L2275.4 1538.2Z" fill="#fff" stroke="#000" stroke-width="7.8"/><ellipse cx="2275.4" cy="1515" rx="5.6" ry="4.2"/><path d="M2277.8 1353.4L2318 1353.4L2297.9 1388.2Z" fill="#fff" stroke="#000" stroke-width="7.8"/><ellipse cx="2297.9" cy="1365" rx="5.6" ry="4.2"/><path d="M2300.3 1431.4L2340.5 1431.4L2320.4 1466.2Z" fill="#fff" stroke="#000" stroke-width="7.8"/><ellipse cx="2320.4" cy="1443" rx="5.6" ry="4.2"/></g><g stroke-linejoin="round"><path d="M630 312.6L664.8 292.5L664.8 332.7Z" fill="#fff" stroke="#0000ff" stroke-width="7.8"/><ellipse cx="653.2" cy="312.6" rx="5.6" ry="4.2" fill="#0000ff"/><path d="M652.5 377L687.3 356.9L687.3 397.1Z" fill="#fff" stroke="#0000ff" stroke-width="7.8"/><ellipse cx="675.7" cy="377" rx="5.6" ry="4.2" fill="#0000ff"/><path d="M675.1 495L709.9 474.9L709.9 515.1Z" fill="#fff" stroke="#0000ff" stroke-width="7.8"/><ellipse cx="698.3" cy="495" rx="5.6" ry="4.2" fill="#0000ff"/><path d="M697.6 413.6L732.4 393.5L732.4 433.7Z" fill="#fff" stroke="#0000ff" stroke-width="7.8"/><ellipse cx="720.8" cy="413.6" rx="5.6" ry="4.2" fill="#0000ff"/><path d="M720.1 492.3L754.9 472.2L754.9 512.4Z" fill="#fff" stroke="#0000ff" stroke-width="7.8"/><ellipse cx="743.3" cy="492.3" rx="5.6" ry="4.2" fill="#0000ff"/><path d="M742.6 522.6L777.5 502.5L777.5 542.7Z" fill="#fff" stroke="#0000ff" stroke-width="7.8"/><ellipse cx="765.9" cy="522.6" rx="5.6" ry="4.2" fill="#0000ff"/><path d="M765.2 497L800 476.9L800 517.1Z" fill="#fff" stroke="#0000ff" stroke-width="7.8"/><ellipse cx="788.4" cy="497" rx="5.6" ry="4.2" fill="#0000ff"/><path d="M787.7 638L822.5 617.9L822.5 658.1Z" fill="#fff" stroke="#0000ff" stroke-width="7.8"/><ellipse cx="810.9" cy="638" rx="5.6" ry="4.2" fill="#0000ff"/><path d="M810.2 615L845 594.9L845 635.1Z" fill="#fff" stroke="#0000ff" stroke-width="7.8"/><ellipse cx="833.4" cy="615" rx="5.6" ry="4.2" fill="#0000ff"/><path d="M832.8 553.5L867.6 533.4L867.6 573.6Z" fill="#fff" stroke="#0000ff" stroke-width="7.8"/><ellipse cx="856" cy="553.5" rx="5.6" ry="4.2" fill="#0000ff"/><path d="M855.3 671.5L890.1 651.4L890.1 691.6Z" fill="#fff" stroke="#0000ff" stroke-width="7.8"/><ellipse cx="878.5" cy="671.5" rx="5.6" ry="4.2" fill="#0000ff"/><path d="M877.8 635L912.6 614.9L912.6 655.1Z" fill="#fff" stroke="#0000ff" stroke-width="7.8"/><ellipse cx="901" cy="635" rx="5.6" ry="4.2" fill="#0000ff"/><path d="M900.4 710.7L935.2 690.6L935.2 730.8Z" fill="#fff" stroke="#0000ff" stroke-width="7.8"/><ellipse cx="923.6" cy="710.7" rx="5.6" ry="4.2" fill="#0000ff"/><path d="M922.9 669.5L957.7 649.4L957.7 689.6Z" fill="#fff" stroke="#0000ff" stroke-width="7.8"/><ellipse cx="946.1" cy="669.5" rx="5.6" ry="4.2" fill="#0000ff"/><path d="M945.4 744L980.2 723.9L980.2 764.1Z" fill="#fff" stroke="#0000ff" stroke-width="7.8"/><ellipse cx="968.6" cy="744" rx="5.6" ry="4.2" fill="#0000ff"/><path d="M968 586.5L1002.8 566.4L1002.8 606.6Z" fill="#fff" stroke="#0000ff" stroke-width="7.8"/><ellipse cx="991.2" cy="586.5" rx="5.6" ry="4.2" fill="#0000ff"/><path d="M990.5 685.5L1025.3 665.4L1025.3 705.6Z" fill="#fff" stroke="#0000ff" stroke-width="7.8"/><ellipse cx="1013.7" cy="685.5" rx="5.6" ry="4.2" fill="#0000ff"/><path d="M1013 577L1047.8 556.9L1047.8 597.1Z" fill="#fff" stroke="#0000ff" stroke-width="7.8"/><ellipse cx="1036.2" cy="577" rx="5.6" ry="4.2" fill="#0000ff"/><path d="M1035.5 636L1070.3 615.9L1070.3 656.1Z" fill="#fff" stroke="#0000ff" stroke-width="7.8"/><ellipse cx="1058.7" cy="636" rx="5.6" ry="4.2" fill="#0000ff"/><path d="M1058.1 673L1092.9 652.9L1092.9 693.1Z" fill="#fff" stroke="#0000ff" stroke-width="7.8"/><ellipse cx="1081.3" cy="673" rx="5.6" ry="4.2" fill="#0000ff"/><path d="M1080.6 658.5L1115.4 638.4L1115.4 678.6Z" fill="#fff" stroke="#0000ff" stroke-width="7.8"/><ellipse cx="1103.8" cy="658.5" rx="5.6" ry="4.2" fill="#0000ff"/><path d="M1103.1 774L1137.9 753.9L1137.9 794.1Z" fill="#fff" stroke="#0000ff" stroke-width="7.8"/><ellipse cx="1126.3" cy="774" rx="5.6" ry="4.2" fill="#0000ff"/><path d="M1125.7 735L1160.5 714.9L1160.5 755.1Z" fill="#fff" stroke="#0000ff" stroke-width="7.8"/><ellipse cx="1148.9" cy="735" rx="5.6" ry="4.2" fill="#0000ff"/><path d="M1148.2 567L1183 546.9L1183 587.1Z" fill="#fff" stroke="#0000ff" stroke-width="7.8"/><ellipse cx="1171.4" cy="567" rx="5.6" ry="4.2" fill="#0000ff"/><path d="M1170.7 847L1205.5 826.9L1205.5 867.1Z" fill="#fff" stroke="#0000ff" stroke-width="7.8"/><ellipse cx="1193.9" cy="847" rx="5.6" ry="4.2" fill="#0000ff"/><path d="M1193.2 667L1228 646.9L1228 687.1Z" fill="#fff" stroke="#0000ff" stroke-width="7.8"/><ellipse cx="1216.5" cy="667" rx="5.6" ry="4.2" fill="#0000ff"/><path d="M1215.8 714L1250.6 693.9L1250.6 734.1Z" fill="#fff" stroke="#0000ff" stroke-width="7.8"/><ellipse cx="1239" cy="714" rx="5.6" ry="4.2" fill="#0000ff"/><path d="M1238.3 862L1273.1 841.9L1273.1 882.1Z" fill="#fff" stroke="#0000ff" stroke-width="7.8"/><ellipse cx="1261.5" cy="862" rx="5.6" ry="4.2" fill="#0000ff"/><path d="M1260.8 678L1295.6 657.9L1295.6 698.1Z" fill="#fff" stroke="#0000ff" stroke-width="7.8"/><ellipse cx="1284" cy="678" rx="5.6" ry="4.2" fill="#0000ff"/><path d="M1283.4 820.5L1318.2 800.4L1318.2 840.6Z" fill="#fff" stroke="#0000ff" stroke-width="7.8"/><ellipse cx="1306.6" cy="820.5" rx="5.6" ry="4.2" fill="#0000ff"/><path d="M1305.9 756.7L1340.7 736.6L1340.7 776.8Z" fill="#fff" stroke="#0000ff" stroke-width="7.8"/><ellipse cx="1329.1" cy="756.7" rx="5.6" ry="4.2" fill="#0000ff"/><path d="M1328.4 667.3L1363.2 647.2L1363.2 687.4Z" fill="#fff" stroke="#0000ff" stroke-width="7.8"/><ellipse cx="1351.6" cy="667.3" rx="5.6" ry="4.2" fill="#0000ff"/><path d="M1351 857L1385.8 836.9L1385.8 877.1Z" fill="#fff" stroke="#0000ff" stroke-width="7.8"/><ellipse cx="1374.2" cy="857" rx="5.6" ry="4.2" fill="#0000ff"/><path d="M1373.5 764L1408.3 743.9L1408.3 784.1Z" fill="#fff" stroke="#0000ff" stroke-width="7.8"/><ellipse cx="1396.7" cy="764" rx="5.6" ry="4.2" fill="#0000ff"/><path d="M1396 679L1430.8 658.9L1430.8 699.1Z" fill="#fff" stroke="#0000ff" stroke-width="7.8"/><ellipse cx="1419.2" cy="679" rx="5.6" ry="4.2" fill="#0000ff"/><path d="M1418.5 886L1453.3 865.9L1453.3 906.1Z" fill="#fff" stroke="#0000ff" stroke-width="7.8"/><ellipse cx="1441.8" cy="886" rx="5.6" ry="4.2" fill="#0000ff"/><path d="M1441.1 751.5L1475.9 731.4L1475.9 771.6Z" fill="#fff" stroke="#0000ff" stroke-width="7.8"/><ellipse cx="1464.3" cy="751.5" rx="5.6" ry="4.2" fill="#0000ff"/><path d="M1463.6 693.5L1498.4 673.4L1498.4 713.6Z" fill="#fff" stroke="#0000ff" stroke-width="7.8"/><ellipse cx="1486.8" cy="693.5" rx="5.6" ry="4.2" fill="#0000ff"/><path d="M1486.1 852L1520.9 831.9L1520.9 872.1Z" fill="#fff" stroke="#0000ff" stroke-width="7.8"/><ellipse cx="1509.3" cy="852" rx="5.6" ry="4.2" fill="#0000ff"/><path d="M1508.7 946L1543.5 925.9L1543.5 966.1Z" fill="#fff" stroke="#0000ff" stroke-width="7.8"/><ellipse cx="1531.9" cy="946" rx="5.6" ry="4.2" fill="#0000ff"/><path d="M1531.2 819L1566 798.9L1566 839.1Z" fill="#fff" stroke="#0000ff" stroke-width="7.8"/><ellipse cx="1554.4" cy="819" rx="5.6" ry="4.2" fill="#0000ff"/><path d="M1553.7 790L1588.5 769.9L1588.5 810.1Z" fill="#fff" stroke="#0000ff" stroke-width="7.8"/><ellipse cx="1576.9" cy="790" rx="5.6" ry="4.2" fill="#0000ff"/><path d="M1576.3 794L1611.1 773.9L1611.1 814.1Z" fill="#fff" stroke="#0000ff" stroke-width="7.8"/><ellipse cx="1599.5" cy="794" rx="5.6" ry="4.2" fill="#0000ff"/><path d="M1598.8 932.5L1633.6 912.4L1633.6 952.6Z" fill="#fff" stroke="#0000ff" stroke-width="7.8"/><ellipse cx="1622" cy="932.5" rx="5.6" ry="4.2" fill="#0000ff"/><path d="M1621.3 733.5L1656.1 713.4L1656.1 753.6Z" fill="#fff" stroke="#0000ff" stroke-width="7.8"/><ellipse cx="1644.5" cy="733.5" rx="5.6" ry="4.2" fill="#0000ff"/><path d="M1643.9 949L1678.7 928.9L1678.7 969.1Z" fill="#fff" stroke="#0000ff" stroke-width="7.8"/><ellipse cx="1667.1" cy="949" rx="5.6" ry="4.2" fill="#0000ff"/><path d="M1666.4 900L1701.2 879.9L1701.2 920.1Z" fill="#fff" stroke="#0000ff" stroke-width="7.8"/><ellipse cx="1689.6" cy="900" rx="5.6" ry="4.2" fill="#0000ff"/><path d="M1688.9 809L1723.7 788.9L1723.7 829.1Z" fill="#fff" stroke="#0000ff" stroke-width="7.8"/><ellipse cx="1712.1" cy="809" rx="5.6" ry="4.2" fill="#0000ff"/><path d="M1711.4 865L1746.2 844.9L1746.2 885.1Z" fill="#fff" stroke="#0000ff" stroke-width="7.8"/><ellipse cx="1734.6" cy="865" rx="5.6" ry="4.2" fill="#0000ff"/><path d="M1734 961L1768.8 940.9L1768.8 981.1Z" fill="#fff" stroke="#0000ff" stroke-width="7.8"/><ellipse cx="1757.2" cy="961" rx="5.6" ry="4.2" fill="#0000ff"/><path d="M1756.5 876L1791.3 855.9L1791.3 896.1Z" fill="#fff" stroke="#0000ff" stroke-width="7.8"/><ellipse cx="1779.7" cy="876" rx="5.6" ry="4.2" fill="#0000ff"/><path d="M1779 873L1813.8 852.9L1813.8 893.1Z" fill="#fff" stroke="#0000ff" stroke-width="7.8"/><ellipse cx="1802.2" cy="873" rx="5.6" ry="4.2" fill="#0000ff"/><path d="M1801.6 881L1836.4 860.9L1836.4 901.1Z" fill="#fff" stroke="#0000ff" stroke-width="7.8"/><ellipse cx="1824.8" cy="881" rx="5.6" ry="4.2" fill="#0000ff"/><path d="M1824.1 895L1858.9 874.9L1858.9 915.1Z" fill="#fff" stroke="#0000ff" stroke-width="7.8"/><ellipse cx="1847.3" cy="895" rx="5.6" ry="4.2" fill="#0000ff"/><path d="M1846.6 886L1881.4 865.9L1881.4 906.1Z" fill="#fff" stroke="#0000ff" stroke-width="7.8"/><ellipse cx="1869.8" cy="886" rx="5.6" ry="4.2" fill="#0000ff"/><path d="M1869.2 1001L1904 980.9L1904 1021.1Z" fill="#fff" stroke="#0000ff" stroke-width="7.8"/><ellipse cx="1892.4" cy="1001" rx="5.6" ry="4.2" fill="#0000ff"/><path d="M1891.7 878.5L1926.5 858.4L1926.5 898.6Z" fill="#fff" stroke="#0000ff" stroke-width="7.8"/><ellipse cx="1914.9" cy="878.5" rx="5.6" ry="4.2" fill="#0000ff"/><path d="M1914.2 914L1949 893.9L1949 934.1Z" fill="#fff" stroke="#0000ff" stroke-width="7.8"/><ellipse cx="1937.4" cy="914" rx="5.6" ry="4.2" fill="#0000ff"/><path d="M1936.7 904L1971.5 883.9L1971.5 924.1Z" fill="#fff" stroke="#0000ff" stroke-width="7.8"/><ellipse cx="1959.9" cy="904" rx="5.6" ry="4.2" fill="#0000ff"/><path d="M1959.3 990L1994.1 969.9L1994.1 1010.1Z" fill="#fff" stroke="#0000ff" stroke-width="7.8"/><ellipse cx="1982.5" cy="990" rx="5.6" ry="4.2" fill="#0000ff"/><path d="M1981.8 988.5L2016.6 968.4L2016.6 1008.6Z" fill="#fff" stroke="#0000ff" stroke-width="7.8"/><ellipse cx="2005" cy="988.5" rx="5.6" ry="4.2" fill="#0000ff"/><path d="M2004.3 927.5L2039.1 907.4L2039.1 947.6Z" fill="#fff" stroke="#0000ff" stroke-width="7.8"/><ellipse cx="2027.5" cy="927.5" rx="5.6" ry="4.2" fill="#0000ff"/><path d="M2026.9 919L2061.7 898.9L2061.7 939.1Z" fill="#fff" stroke="#0000ff" stroke-width="7.8"/><ellipse cx="2050.1" cy="919" rx="5.6" ry="4.2" fill="#0000ff"/><path d="M2055.1 1052L2081.3 1036.8L2081.3 1067.2Z" fill="#fff" stroke="#0000ff" stroke-width="5.6"/><ellipse cx="2072.6" cy="1052" rx="4" ry="3" fill="#0000ff"/><path d="M2071.9 901L2106.7 880.9L2106.7 921.1Z" fill="#fff" stroke="#0000ff" stroke-width="7.8"/><ellipse cx="2095.1" cy="901" rx="5.6" ry="4.2" fill="#0000ff"/><path d="M2094.5 889.5L2129.2 869.4L2129.2 909.6Z" fill="#fff" stroke="#0000ff" stroke-width="7.8"/><ellipse cx="2117.7" cy="889.5" rx="5.6" ry="4.2" fill="#0000ff"/><path d="M2117 834L2151.8 813.9L2151.8 854.1Z" fill="#fff" stroke="#0000ff" stroke-width="7.8"/><ellipse cx="2140.2" cy="834" rx="5.6" ry="4.2" fill="#0000ff"/><path d="M2139.5 898.6L2174.3 878.5L2174.3 918.7Z" fill="#fff" stroke="#0000ff" stroke-width="7.8"/><ellipse cx="2162.7" cy="898.6" rx="5.6" ry="4.2" fill="#0000ff"/><path d="M2162 922.7L2196.8 902.6L2196.8 942.8Z" fill="#fff" stroke="#0000ff" stroke-width="7.8"/><ellipse cx="2185.2" cy="922.7" rx="5.6" ry="4.2" fill="#0000ff"/><path d="M2184.6 977L2219.4 956.9L2219.4 997.1Z" fill="#fff" stroke="#0000ff" stroke-width="7.8"/><ellipse cx="2207.8" cy="977" rx="5.6" ry="4.2" fill="#0000ff"/><path d="M2207.1 1001L2241.9 980.9L2241.9 1021.1Z" fill="#fff" stroke="#0000ff" stroke-width="7.8"/><ellipse cx="2230.3" cy="1001" rx="5.6" ry="4.2" fill="#0000ff"/><path d="M2229.6 945.6L2264.4 925.5L2264.4 965.7Z" fill="#fff" stroke="#0000ff" stroke-width="7.8"/><ellipse cx="2252.8" cy="945.6" rx="5.6" ry="4.2" fill="#0000ff"/><path d="M2252.2 1039L2287 1018.9L2287 1059.1Z" fill="#fff" stroke="#0000ff" stroke-width="7.8"/><ellipse cx="2275.4" cy="1039" rx="5.6" ry="4.2" fill="#0000ff"/><path d="M2274.7 1150L2309.5 1129.9L2309.5 1170.1Z" fill="#fff" stroke="#0000ff" stroke-width="7.8"/><ellipse cx="2297.9" cy="1150" rx="5.6" ry="4.2" fill="#0000ff"/><path d="M2297.2 984L2332 963.9L2332 1004.1Z" fill="#fff" stroke="#0000ff" stroke-width="7.8"/><ellipse cx="2320.4" cy="984" rx="5.6" ry="4.2" fill="#0000ff"/></g><path d="M653.2 236.4V218M653.2 284.2V296M639.2 218H667.2M639.2 296H667.2M675.7 296V277.4M675.7 343.8V355.8M661.7 277.4H689.7M661.7 355.8H689.7M698.3 393.4V374.6M698.3 441.2V453.4M684.3 374.6H712.3M684.3 453.4H712.3M720.8 530.9V511.9M720.8 578.7V591.1M706.8 511.9H734.8M706.8 591.1H734.8M743.3 633.4V614.3M743.3 681.2V693.7M729.3 614.3H757.3M729.3 693.7H757.3M765.9 549.4V530.1M765.9 597.2V609.9M751.9 530.1H779.9M751.9 609.9H779.9M788.4 718.4V698.9M788.4 766.2V779.1M774.4 698.9H802.4M774.4 779.1H802.4M810.9 822.4V802.7M810.9 870.2V883.3M796.9 802.7H824.9M796.9 883.3H824.9M833.4 772.4V752.5M833.4 820.2V833.5M819.4 752.5H847.4M819.4 833.5H847.4M856 823.4V803.3M856 871.2V884.7M842 803.3H870M842 884.7H870M878.5 874.4V854.1M878.5 922.2V935.9M864.5 854.1H892.5M864.5 935.9H892.5M901 788.4V767.9M901 836.2V850.1M887 767.9H915M887 850.1H915M923.6 966.4V945.7M923.6 1014.2V1028.3M909.6 945.7H937.6M909.6 1028.3H937.6M946.1 996.4V975.5M946.1 1044.2V1058.5M932.1 975.5H960.1M932.1 1058.5H960.1M968.6 952.4V931.3M968.6 1000.2V1014.7M954.6 931.3H982.6M954.6 1014.7H982.6M991.2 1044.9V1023.7M991.2 1092.7V1107.3M977.2 1023.7H1005.2M977.2 1107.3H1005.2M1013.7 1161.4V1140M1013.7 1209.2V1224M999.7 1140H1027.7M999.7 1224H1027.7M1036.2 1054.4V1032.8M1036.2 1102.2V1117.2M1022.2 1032.8H1050.2M1022.2 1117.2H1050.2M1058.7 1116.4V1094.6M1058.7 1164.2V1179.4M1044.7 1094.6H1072.7M1044.7 1179.4H1072.7M1081.3 1232.4V1210.4M1081.3 1280.2V1295.6M1067.3 1210.4H1095.3M1067.3 1295.6H1095.3M1103.8 1195.4V1173.2M1103.8 1243.2V1258.8M1089.8 1173.2H1117.8M1089.8 1258.8H1117.8M1126.3 1157.4V1135M1126.3 1205.2V1221M1112.3 1135H1140.3M1112.3 1221H1140.3M1148.9 1212.4V1189.8M1148.9 1260.2V1276.2M1134.9 1189.8H1162.9M1134.9 1276.2H1162.9M1171.4 1192.4V1169.5M1171.4 1240.2V1256.5M1157.4 1169.5H1185.4M1157.4 1256.5H1185.4M1193.9 1243.9V1220.8M1193.9 1291.7V1308.2M1179.9 1220.8H1207.9M1179.9 1308.2H1207.9M1216.5 1332V1308.7M1216.5 1379.8V1396.5M1202.5 1308.7H1230.5M1202.5 1396.5H1230.5M1239 1243.4V1219.9M1239 1291.2V1308.1M1225 1219.9H1253M1225 1308.1H1253M1261.5 1227.4V1203.7M1261.5 1275.2V1292.3M1247.5 1203.7H1275.5M1247.5 1292.3H1275.5M1284 1307.4V1283.5M1284 1355.2V1372.5M1270 1283.5H1298M1270 1372.5H1298M1306.6 1331.4V1307.3M1306.6 1379.2V1396.7M1292.6 1307.3H1320.6M1292.6 1396.7H1320.6M1329.1 1299.4V1275.1M1329.1 1347.2V1364.9M1315.1 1275.1H1343.1M1315.1 1364.9H1343.1M1351.6 1386.4V1361.9M1351.6 1434.2V1452.1M1337.6 1361.9H1365.6M1337.6 1452.1H1365.6M1374.2 1383.4V1358.7M1374.2 1431.2V1449.3M1360.2 1358.7H1388.2M1360.2 1449.3H1388.2M1396.7 1290.4V1265.5M1396.7 1338.2V1356.5M1382.7 1265.5H1410.7M1382.7 1356.5H1410.7M1419.2 1311.4V1286.2M1419.2 1359.2V1377.8M1405.2 1286.2H1433.2M1405.2 1377.8H1433.2M1441.8 1359.4V1334M1441.8 1407.2V1426M1427.8 1334H1455.8M1427.8 1426H1455.8M1464.3 1348.4V1322.8M1464.3 1396.2V1415.2M1450.3 1322.8H1478.3M1450.3 1415.2H1478.3M1486.8 1394.4V1368.6M1486.8 1442.2V1461.4M1472.8 1368.6H1500.8M1472.8 1461.4H1500.8M1509.3 1381.4V1355.4M1509.3 1429.2V1448.6M1495.3 1355.4H1523.3M1495.3 1448.6H1523.3M1531.9 1260.4V1234.2M1531.9 1308.2V1327.8M1517.9 1234.2H1545.9M1517.9 1327.8H1545.9M1554.4 1440.4V1413.9M1554.4 1488.2V1508.1M1540.4 1413.9H1568.4M1540.4 1508.1H1568.4M1576.9 1478.4V1451.7M1576.9 1526.2V1546.3M1562.9 1451.7H1590.9M1562.9 1546.3H1590.9M1599.5 1402.4V1375.5M1599.5 1450.2V1470.5M1585.5 1375.5H1613.5M1585.5 1470.5H1613.5M1622 1411.4V1384.3M1622 1459.2V1479.7M1608 1384.3H1636M1608 1479.7H1636M1644.5 1390.4V1363M1644.5 1438.2V1459M1630.5 1363H1658.5M1630.5 1459H1658.5M1667.1 1354.4V1326.8M1667.1 1402.2V1423.2M1653.1 1326.8H1681.1M1653.1 1423.2H1681.1M1689.6 1449.4V1421.6M1689.6 1497.2V1518.4M1675.6 1421.6H1703.6M1675.6 1518.4H1703.6M1712.1 1468.4V1440.4M1712.1 1516.2V1537.6M1698.1 1440.4H1726.1M1698.1 1537.6H1726.1M1734.6 1320.9V1292.6M1734.6 1368.7V1390.4M1720.6 1292.6H1748.6M1720.6 1390.4H1748.6M1757.2 1352.9V1324.4M1757.2 1400.7V1422.6M1743.2 1324.4H1771.2M1743.2 1422.6H1771.2M1779.7 1494.4V1465.7M1779.7 1542.2V1564.3M1765.7 1465.7H1793.7M1765.7 1564.3H1793.7M1802.2 1314.4V1285.4M1802.2 1362.2V1384.6M1788.2 1285.4H1816.2M1788.2 1384.6H1816.2M1824.8 1437.4V1408.2M1824.8 1485.2V1507.8M1810.8 1408.2H1838.8M1810.8 1507.8H1838.8M1847.3 1494.4V1465M1847.3 1542.2V1565M1833.3 1465H1861.3M1833.3 1565H1861.3M1869.8 1400.9V1371.2M1869.8 1448.7V1471.8M1855.8 1371.2H1883.8M1855.8 1471.8H1883.8M1892.4 1400.9V1371M1892.4 1448.7V1472M1878.4 1371H1906.4M1878.4 1472H1906.4M1914.9 1461.4V1431.3M1914.9 1509.2V1532.7M1900.9 1431.3H1928.9M1900.9 1532.7H1928.9M1937.4 1423.4V1393M1937.4 1471.2V1495M1923.4 1393H1951.4M1923.4 1495H1951.4M1959.9 1390V1359.4M1959.9 1437.8V1461.8M1945.9 1359.4H1973.9M1945.9 1461.8H1973.9M1982.5 1494.4V1463.5M1982.5 1542.2V1566.5M1968.5 1463.5H1996.5M1968.5 1566.5H1996.5M2005 1317.4V1286.3M2005 1365.2V1389.7M1991 1286.3H2019M1991 1389.7H2019M2027.5 1403.9V1372.6M2027.5 1451.7V1476.4M2013.5 1372.6H2041.5M2013.5 1476.4H2041.5M2050.1 1494.4V1462.8M2050.1 1542.2V1567.2M2036.1 1462.8H2064.1M2036.1 1567.2H2064.1M2072.6 1403.9V1372.1M2072.6 1451.7V1476.9M2058.6 1372.1H2086.6M2058.6 1476.9H2086.6M2095.1 1325.4V1293.3M2095.1 1373.2V1398.7M2081.1 1293.3H2109.1M2081.1 1398.7H2109.1M2117.7 1494.4V1462.1M2117.7 1542.2V1567.9M2103.7 1462.1H2131.7M2103.7 1567.9H2131.7M2140.2 1494.4V1461.8M2140.2 1542.2V1568.2M2126.2 1461.8H2154.2M2126.2 1568.2H2154.2M2162.7 1281.4V1248.6M2162.7 1329.2V1355.4M2148.7 1248.6H2176.7M2148.7 1355.4H2176.7M2185.2 1494.4V1461.3M2185.2 1542.2V1568.7M2171.2 1461.3H2199.2M2171.2 1568.7H2199.2M2207.8 1494.4V1461.1M2207.8 1542.2V1568.9M2193.8 1461.1H2221.8M2193.8 1568.9H2221.8M2230.3 1355.4V1321.8M2230.3 1403.2V1430.2M2216.3 1321.8H2244.3M2216.3 1430.2H2244.3M2252.8 1464.4V1430.6M2252.8 1512.2V1539.4M2238.8 1430.6H2266.8M2238.8 1539.4H2266.8M2275.4 1494.4V1460.3M2275.4 1542.2V1569.7M2261.4 1460.3H2289.4M2261.4 1569.7H2289.4M2297.9 1344.4V1310M2297.9 1392.2V1420M2283.9 1310H2311.9M2283.9 1420H2311.9M2320.4 1422.4V1387.8M2320.4 1470.2V1498.2M2306.4 1387.8H2334.4M2306.4 1498.2H2334.4" fill="none" stroke="#000000" stroke-width="2.9" stroke-linecap="round"/><path d="M653.2 313.8V292.5M653.2 354.2V375.5M639.2 292.5H667.2M639.2 375.5H667.2M675.7 230.2V208.7M675.7 270.6V292.1M661.7 208.7H689.7M661.7 292.1H689.7M698.3 466.3V444.6M698.3 506.7V528.4M684.3 444.6H712.3M684.3 528.4H712.3M720.8 484.8V462.9M720.8 525.2V547.1M706.8 462.9H734.8M706.8 547.1H734.8M743.3 545.8V523.7M743.3 586.2V608.3M729.3 523.7H757.3M729.3 608.3H757.3M765.9 721.8V699.4M765.9 762.2V784.6M751.9 699.4H779.9M751.9 784.6H779.9M788.4 598.3V575.7M788.4 638.7V661.3M774.4 575.7H802.4M774.4 661.3H802.4M810.9 741.8V719M810.9 782.2V805M796.9 719H824.9M796.9 805H824.9M833.4 740.8V717.8M833.4 781.2V804.2M819.4 717.8H847.4M819.4 804.2H847.4M856 799.8V776.6M856 840.2V863.4M842 776.6H870M842 863.4H870M878.5 828.8V805.4M878.5 869.2V892.6M864.5 805.4H892.5M864.5 892.6H892.5M901 812.8V789.2M901 853.2V876.8M887 789.2H915M887 876.8H915M923.6 1005.8V981.9M923.6 1046.2V1070.1M909.6 981.9H937.6M909.6 1070.1H937.6M946.1 957.8V933.7M946.1 998.2V1022.3M932.1 933.7H960.1M932.1 1022.3H960.1M968.6 992.8V968.5M968.6 1033.2V1057.5M954.6 968.5H982.6M954.6 1057.5H982.6M991.2 1018.3V993.8M991.2 1058.7V1083.2M977.2 993.8H1005.2M977.2 1083.2H1005.2M1013.7 1060.8V1036M1013.7 1101.2V1126M999.7 1036H1027.7M999.7 1126H1027.7M1036.2 1072.8V1047.8M1036.2 1113.2V1138.2M1022.2 1047.8H1050.2M1022.2 1138.2H1050.2M1058.7 1037.3V1012.1M1058.7 1077.7V1102.9M1044.7 1012.1H1072.7M1044.7 1102.9H1072.7M1081.3 1154.8V1129.4M1081.3 1195.2V1220.6M1067.3 1129.4H1095.3M1067.3 1220.6H1095.3M1103.8 1191.8V1166.1M1103.8 1232.2V1257.9M1089.8 1166.1H1117.8M1089.8 1257.9H1117.8M1126.3 1136.8V1110.9M1126.3 1177.2V1203.1M1112.3 1110.9H1140.3M1112.3 1203.1H1140.3M1148.9 1157.8V1131.7M1148.9 1198.2V1224.3M1134.9 1131.7H1162.9M1134.9 1224.3H1162.9M1171.4 1219.8V1193.4M1171.4 1260.2V1286.6M1157.4 1193.4H1185.4M1157.4 1286.6H1185.4M1193.9 1226.8V1200.2M1193.9 1267.2V1293.8M1179.9 1200.2H1207.9M1179.9 1293.8H1207.9M1216.5 1252.8V1226M1216.5 1293.2V1320M1202.5 1226H1230.5M1202.5 1320H1230.5M1239 1222.8V1195.7M1239 1263.2V1290.3M1225 1195.7H1253M1225 1290.3H1253M1261.5 1263.8V1236.5M1261.5 1304.2V1331.5M1247.5 1236.5H1275.5M1247.5 1331.5H1275.5M1284 1339.8V1312.3M1284 1380.2V1407.7M1270 1312.3H1298M1270 1407.7H1298M1306.6 1316.8V1289M1306.6 1357.2V1385M1292.6 1289H1320.6M1292.6 1385H1320.6M1329.1 1312.8V1284.8M1329.1 1353.2V1381.2M1315.1 1284.8H1343.1M1315.1 1381.2H1343.1M1351.6 1232.8V1204.5M1351.6 1273.2V1301.5M1337.6 1204.5H1365.6M1337.6 1301.5H1365.6M1374.2 1334.8V1306.3M1374.2 1375.2V1403.7M1360.2 1306.3H1388.2M1360.2 1403.7H1388.2M1396.7 1317.8V1289.1M1396.7 1358.2V1386.9M1382.7 1289.1H1410.7M1382.7 1386.9H1410.7M1419.2 1358.8V1329.8M1419.2 1399.2V1428.2M1405.2 1329.8H1433.2M1405.2 1428.2H1433.2M1441.8 1427.8V1398.6M1441.8 1468.2V1497.4M1427.8 1398.6H1455.8M1427.8 1497.4H1455.8M1464.3 1405.8V1376.3M1464.3 1446.2V1475.7M1450.3 1376.3H1478.3M1450.3 1475.7H1478.3M1486.8 1321.8V1292.1M1486.8 1362.2V1391.9M1472.8 1292.1H1500.8M1472.8 1391.9H1500.8M1509.3 1448.8V1418.8M1509.3 1489.2V1519.2M1495.3 1418.8H1523.3M1495.3 1519.2H1523.3M1531.9 1405.4V1375.2M1531.9 1445.8V1476M1517.9 1375.2H1545.9M1517.9 1476H1545.9M1554.4 1358.8V1328.3M1554.4 1399.2V1429.7M1540.4 1328.3H1568.4M1540.4 1429.7H1568.4M1576.9 1453.8V1423.1M1576.9 1494.2V1524.9M1562.9 1423.1H1590.9M1562.9 1524.9H1590.9M1599.5 1433.8V1402.8M1599.5 1474.2V1505.2M1585.5 1402.8H1613.5M1585.5 1505.2H1613.5M1622 1380.8V1349.5M1622 1421.2V1452.5M1608 1349.5H1636M1608 1452.5H1636M1644.5 1460.8V1429.3M1644.5 1501.2V1532.7M1630.5 1429.3H1658.5M1630.5 1532.7H1658.5M1667.1 1412.8V1381M1667.1 1453.2V1485M1653.1 1381H1681.1M1653.1 1485H1681.1M1689.6 1392.3V1360.3M1689.6 1432.7V1464.7M1675.6 1360.3H1703.6M1675.6 1464.7H1703.6M1712.1 1368.8V1336.5M1712.1 1409.2V1441.5M1698.1 1336.5H1726.1M1698.1 1441.5H1726.1M1734.6 1428.3V1395.7M1734.6 1468.7V1501.3M1720.6 1395.7H1748.6M1720.6 1501.3H1748.6M1757.2 1469.8V1437M1757.2 1510.2V1543M1743.2 1437H1771.2M1743.2 1543H1771.2M1779.7 1457.8V1424.7M1779.7 1498.2V1531.3M1765.7 1424.7H1793.7M1765.7 1531.3H1793.7M1802.2 1461.8V1428.4M1802.2 1502.2V1535.6M1788.2 1428.4H1816.2M1788.2 1535.6H1816.2M1824.8 1449.8V1416.2M1824.8 1490.2V1523.8M1810.8 1416.2H1838.8M1810.8 1523.8H1838.8M1847.3 1466.8V1432.9M1847.3 1507.2V1541.1M1833.3 1432.9H1861.3M1833.3 1541.1H1861.3M1869.8 1479.8V1445.6M1869.8 1520.2V1554.4M1855.8 1445.6H1883.8M1855.8 1554.4H1883.8M1892.4 1479.8V1445.4M1892.4 1520.2V1554.6M1878.4 1445.4H1906.4M1878.4 1554.6H1906.4M1914.9 1430.8V1396.1M1914.9 1471.2V1505.9M1900.9 1396.1H1928.9M1900.9 1505.9H1928.9M1937.4 1441.8V1406.8M1937.4 1482.2V1517.2M1923.4 1406.8H1951.4M1923.4 1517.2H1951.4M1959.9 1459.8V1424.5M1959.9 1500.2V1535.5M1945.9 1424.5H1973.9M1945.9 1535.5H1973.9M1982.5 1368.8V1333.3M1982.5 1409.2V1444.7M1968.5 1333.3H1996.5M1968.5 1444.7H1996.5M2005 1378.8V1343M2005 1419.2V1455M1991 1343H2019M1991 1455H2019M2027.5 1455.8V1419.7M2027.5 1496.2V1532.3M2013.5 1419.7H2041.5M2013.5 1532.3H2041.5M2050.1 1408.8V1372.4M2050.1 1449.2V1485.6M2036.1 1372.4H2064.1M2036.1 1485.6H2064.1M2072.6 1479.8V1443.1M2072.6 1520.2V1556.9M2058.6 1443.1H2086.6M2058.6 1556.9H2086.6M2095.1 1467.8V1430.8M2095.1 1508.2V1545.2M2081.1 1430.8H2109.1M2081.1 1545.2H2109.1M2117.7 1439.3V1402.1M2117.7 1479.7V1516.9M2103.7 1402.1H2131.7M2103.7 1516.9H2131.7M2140.2 1479.8V1442.3M2140.2 1520.2V1557.7M2126.2 1442.3H2154.2M2126.2 1557.7H2154.2M2162.7 1479.8V1442M2162.7 1520.2V1558M2148.7 1442H2176.7M2148.7 1558H2176.7M2185.2 1341.8V1303.7M2185.2 1382.2V1420.3M2171.2 1303.7H2199.2M2171.2 1420.3H2199.2M2207.8 1479.8V1441.4M2207.8 1520.2V1558.6M2193.8 1441.4H2221.8M2193.8 1558.6H2221.8M2230.3 1479.8V1441.1M2230.3 1520.2V1558.9M2216.3 1441.1H2244.3M2216.3 1558.9H2244.3M2252.8 1415.3V1376.3M2252.8 1455.7V1494.7M2238.8 1376.3H2266.8M2238.8 1494.7H2266.8M2275.4 1479.8V1440.5M2275.4 1520.2V1559.5M2261.4 1440.5H2289.4M2261.4 1559.5H2289.4M2297.9 1377.8V1338.2M2297.9 1418.2V1457.8M2283.9 1338.2H2311.9M2283.9 1457.8H2311.9M2320.4 1409.8V1369.9M2320.4 1450.2V1490.1M2306.4 1369.9H2334.4M2306.4 1490.1H2334.4" fill="none" stroke="#ff0000" stroke-width="2.9" stroke-linecap="round"/><path d="M653.2 292V259.6M653.2 333.2V365.6M639.2 259.6H667.2M639.2 365.6H667.2M675.7 356.4V323.7M675.7 397.6V430.3M661.7 323.7H689.7M661.7 430.3H689.7M698.3 474.4V441.4M698.3 515.6V548.6M684.3 441.4H712.3M684.3 548.6H712.3M720.8 393V359.8M720.8 434.2V467.4M706.8 359.8H734.8M706.8 467.4H734.8M743.3 471.7V438.2M743.3 512.9V546.4M729.3 438.2H757.3M729.3 546.4H757.3M765.9 502V468.2M765.9 543.2V577M751.9 468.2H779.9M751.9 577H779.9M788.4 476.4V442.3M788.4 517.6V551.7M774.4 442.3H802.4M774.4 551.7H802.4M810.9 617.4V583M810.9 658.6V693M796.9 583H824.9M796.9 693H824.9M833.4 594.4V559.7M833.4 635.6V670.3M819.4 559.7H847.4M819.4 670.3H847.4M856 532.9V498M856 574.1V609M842 498H870M842 609H870M878.5 650.9V615.7M878.5 692.1V727.3M864.5 615.7H892.5M864.5 727.3H892.5M901 614.4V578.9M901 655.6V691.1M887 578.9H915M887 691.1H915M923.6 690.1V654.3M923.6 731.3V767.1M909.6 654.3H937.6M909.6 767.1H937.6M946.1 648.9V612.8M946.1 690.1V726.2M932.1 612.8H960.1M932.1 726.2H960.1M968.6 723.4V687M968.6 764.6V801M954.6 687H982.6M954.6 801H982.6M991.2 565.9V529.2M991.2 607.1V643.8M977.2 529.2H1005.2M977.2 643.8H1005.2M1013.7 664.9V627.9M1013.7 706.1V743.1M999.7 627.9H1027.7M999.7 743.1H1027.7M1036.2 556.4V519.1M1036.2 597.6V634.9M1022.2 519.1H1050.2M1022.2 634.9H1050.2M1058.7 615.4V577.8M1058.7 656.6V694.2M1044.7 577.8H1072.7M1044.7 694.2H1072.7M1081.3 652.4V614.5M1081.3 693.6V731.5M1067.3 614.5H1095.3M1067.3 731.5H1095.3M1103.8 637.9V599.7M1103.8 679.1V717.3M1089.8 599.7H1117.8M1089.8 717.3H1117.8M1126.3 753.4V714.9M1126.3 794.6V833.1M1112.3 714.9H1140.3M1112.3 833.1H1140.3M1148.9 714.4V675.6M1148.9 755.6V794.4M1134.9 675.6H1162.9M1134.9 794.4H1162.9M1171.4 546.4V507.3M1171.4 587.6V626.7M1157.4 507.3H1185.4M1157.4 626.7H1185.4M1193.9 826.4V787M1193.9 867.6V907M1179.9 787H1207.9M1179.9 907H1207.9M1216.5 646.4V606.6M1216.5 687.6V727.4M1202.5 606.6H1230.5M1202.5 727.4H1230.5M1239 693.4V653.3M1239 734.6V774.7M1225 653.3H1253M1225 774.7H1253M1261.5 841.4V801M1261.5 882.6V923M1247.5 801H1275.5M1247.5 923H1275.5M1284 657.4V616.7M1284 698.6V739.3M1270 616.7H1298M1270 739.3H1298M1306.6 799.9V758.9M1306.6 841.1V882.1M1292.6 758.9H1320.6M1292.6 882.1H1320.6M1329.1 736.1V694.8M1329.1 777.3V818.6M1315.1 694.8H1343.1M1315.1 818.6H1343.1M1351.6 646.7V605M1351.6 687.9V729.6M1337.6 605H1365.6M1337.6 729.6H1365.6M1374.2 836.4V794.4M1374.2 877.6V919.6M1360.2 794.4H1388.2M1360.2 919.6H1388.2M1396.7 743.4V701.1M1396.7 784.6V826.9M1382.7 701.1H1410.7M1382.7 826.9H1410.7M1419.2 658.4V615.8M1419.2 699.6V742.2M1405.2 615.8H1433.2M1405.2 742.2H1433.2M1441.8 865.4V822.4M1441.8 906.6V949.6M1427.8 822.4H1455.8M1427.8 949.6H1455.8M1464.3 730.9V687.6M1464.3 772.1V815.4M1450.3 687.6H1478.3M1450.3 815.4H1478.3M1486.8 672.9V629.3M1486.8 714.1V757.7M1472.8 629.3H1500.8M1472.8 757.7H1500.8M1509.3 831.4V787.4M1509.3 872.6V916.6M1495.3 787.4H1523.3M1495.3 916.6H1523.3M1531.9 925.4V881.1M1531.9 966.6V1010.9M1517.9 881.1H1545.9M1517.9 1010.9H1545.9M1554.4 798.4V753.7M1554.4 839.6V884.3M1540.4 753.7H1568.4M1540.4 884.3H1568.4M1576.9 769.4V724.4M1576.9 810.6V855.6M1562.9 724.4H1590.9M1562.9 855.6H1590.9M1599.5 773.4V728.1M1599.5 814.6V859.9M1585.5 728.1H1613.5M1585.5 859.9H1613.5M1622 911.9V866.2M1622 953.1V998.8M1608 866.2H1636M1608 998.8H1636M1644.5 712.9V666.9M1644.5 754.1V800.1M1630.5 666.9H1658.5M1630.5 800.1H1658.5M1667.1 928.4V882M1667.1 969.6V1016M1653.1 882H1681.1M1653.1 1016H1681.1M1689.6 879.4V832.7M1689.6 920.6V967.3M1675.6 832.7H1703.6M1675.6 967.3H1703.6M1712.1 788.4V741.3M1712.1 829.6V876.7M1698.1 741.3H1726.1M1698.1 876.7H1726.1M1734.6 844.4V797M1734.6 885.6V933M1720.6 797H1748.6M1720.6 933H1748.6M1757.2 940.4V892.6M1757.2 981.6V1029.4M1743.2 892.6H1771.2M1743.2 1029.4H1771.2M1779.7 855.4V807.3M1779.7 896.6V944.7M1765.7 807.3H1793.7M1765.7 944.7H1793.7M1802.2 852.4V803.9M1802.2 893.6V942.1M1788.2 803.9H1816.2M1788.2 942.1H1816.2M1824.8 860.4V811.5M1824.8 901.6V950.5M1810.8 811.5H1838.8M1810.8 950.5H1838.8M1847.3 874.4V825.2M1847.3 915.6V964.8M1833.3 825.2H1861.3M1833.3 964.8H1861.3M1869.8 865.4V815.8M1869.8 906.6V956.2M1855.8 815.8H1883.8M1855.8 956.2H1883.8M1892.4 980.4V930.5M1892.4 1021.6V1071.5M1878.4 930.5H1906.4M1878.4 1071.5H1906.4M1914.9 857.9V807.6M1914.9 899.1V949.4M1900.9 807.6H1928.9M1900.9 949.4H1928.9M1937.4 893.4V842.7M1937.4 934.6V985.3M1923.4 842.7H1951.4M1923.4 985.3H1951.4M1959.9 883.4V832.3M1959.9 924.6V975.7M1945.9 832.3H1973.9M1945.9 975.7H1973.9M1982.5 969.4V918M1982.5 1010.6V1062M1968.5 918H1996.5M1968.5 1062H1996.5M2005 967.9V916.1M2005 1009.1V1060.9M1991 916.1H2019M1991 1060.9H2019M2027.5 906.9V854.7M2027.5 948.1V1000.3M2013.5 854.7H2041.5M2013.5 1000.3H2041.5M2050.1 898.4V845.8M2050.1 939.6V992.2M2036.1 845.8H2064.1M2036.1 992.2H2064.1M2072.6 1036V978.5M2072.6 1068V1125.5M2058.6 978.5H2086.6M2058.6 1125.5H2086.6M2095.1 880.4V827.1M2095.1 921.6V974.9M2081.1 827.1H2109.1M2081.1 974.9H2109.1M2117.7 868.9V815.2M2117.7 910.1V963.8M2103.7 815.2H2131.7M2103.7 963.8H2131.7M2140.2 813.4V759.3M2140.2 854.6V908.7M2126.2 759.3H2154.2M2126.2 908.7H2154.2M2162.7 878V823.5M2162.7 919.2V973.7M2148.7 823.5H2176.7M2148.7 973.7H2176.7M2185.2 902.1V847.2M2185.2 943.3V998.2M2171.2 847.2H2199.2M2171.2 998.2H2199.2M2207.8 956.4V901.1M2207.8 997.6V1052.9M2193.8 901.1H2221.8M2193.8 1052.9H2221.8M2230.3 980.4V924.7M2230.3 1021.6V1077.3M2216.3 924.7H2244.3M2216.3 1077.3H2244.3M2252.8 925V868.9M2252.8 966.2V1022.3M2238.8 868.9H2266.8M2238.8 1022.3H2266.8M2275.4 1018.4V961.9M2275.4 1059.6V1116.1M2261.4 961.9H2289.4M2261.4 1116.1H2289.4M2297.9 1129.4V1072.5M2297.9 1170.6V1227.5M2283.9 1072.5H2311.9M2283.9 1227.5H2311.9M2320.4 963.4V906.1M2320.4 1004.6V1061.9M2306.4 906.1H2334.4M2306.4 1061.9H2334.4" fill="none" stroke="#0000ff" stroke-width="2.9" stroke-linecap="round"/></g><path d="M394.5 76.6V1520.4M366.3 1492.1H570M603 1492.1H2315M366 1492.1H394.5M380 1363.4H394.5M366 1234.7H394.5M380 1106.1H394.5M366 977.4H394.5M380 848.7H394.5M366 720H394.5M380 591.3H394.5M366 462.7H394.5M380 334H394.5M366 205.3H394.5M380 76.6H394.5M482.5 1492.1V1506.1M604 1492.1V1506.1M784.2 1492.1V1519.1M964.4 1492.1V1506.1M1144.6 1492.1V1519.1M1324.9 1492.1V1506.1M1505.1 1492.1V1519.1M1685.3 1492.1V1506.1M1865.5 1492.1V1519.1M2045.7 1492.1V1506.1M2226 1492.1V1519.1M553.7 1521L586.6 1462.8M586.6 1521L619.5 1462.8" fill="none" stroke="#000" stroke-width="6.3" stroke-linecap="round"/><text transform="translate(347.5 1518.6) scale(0.972 1)" font-size="90" text-anchor="end">0.0</text><text transform="translate(347.5 1261.2) scale(0.972 1)" font-size="90" text-anchor="end">0.2</text><text transform="translate(347.5 1003.9) scale(0.972 1)" font-size="90" text-anchor="end">0.4</text><text transform="translate(347.5 746.5) scale(0.972 1)" font-size="90" text-anchor="end">0.6</text><text transform="translate(347.5 489.2) scale(0.972 1)" font-size="90" text-anchor="end">0.8</text><text transform="translate(347.5 231.8) scale(0.972 1)" font-size="90" text-anchor="end">1.0</text><text transform="translate(396 1609.5) scale(0.972 1)" font-size="90" text-anchor="middle">0.0</text><text transform="translate(785.7 1609.5) scale(0.972 1)" font-size="90" text-anchor="middle">0.8</text><text transform="translate(1146.1 1609.5) scale(0.972 1)" font-size="90" text-anchor="middle">1.2</text><text transform="translate(1506.6 1609.5) scale(0.972 1)" font-size="90" text-anchor="middle">1.6</text><text transform="translate(1867 1609.5) scale(0.972 1)" font-size="90" text-anchor="middle">2.0</text><text transform="translate(2227.5 1609.5) scale(0.972 1)" font-size="90" text-anchor="middle">2.4</text><text transform="translate(1190 174) scale(0.958 1)" font-size="118.5" text-anchor="start">H = 0</text><text transform="translate(1736 667) scale(0.965 1)" font-size="91" fill="#0000ff">T=41K</text><text transform="translate(814 1419) scale(0.981 1)" font-size="89">T=290K</text><text transform="translate(156 962.5) rotate(-90)" font-size="114">G(t)</text><text x="1180" y="1751" font-size="113" transform="translate(1180 0) scale(0.985 1) translate(-1180 0)">t (</text><text transform="translate(1281 1751) scale(1.22 0.965)" font-size="113" font-family="Liberation Sans" font-weight="normal">μ</text><text x="1351" y="1751" font-size="113">s)</text></svg></body></html>
